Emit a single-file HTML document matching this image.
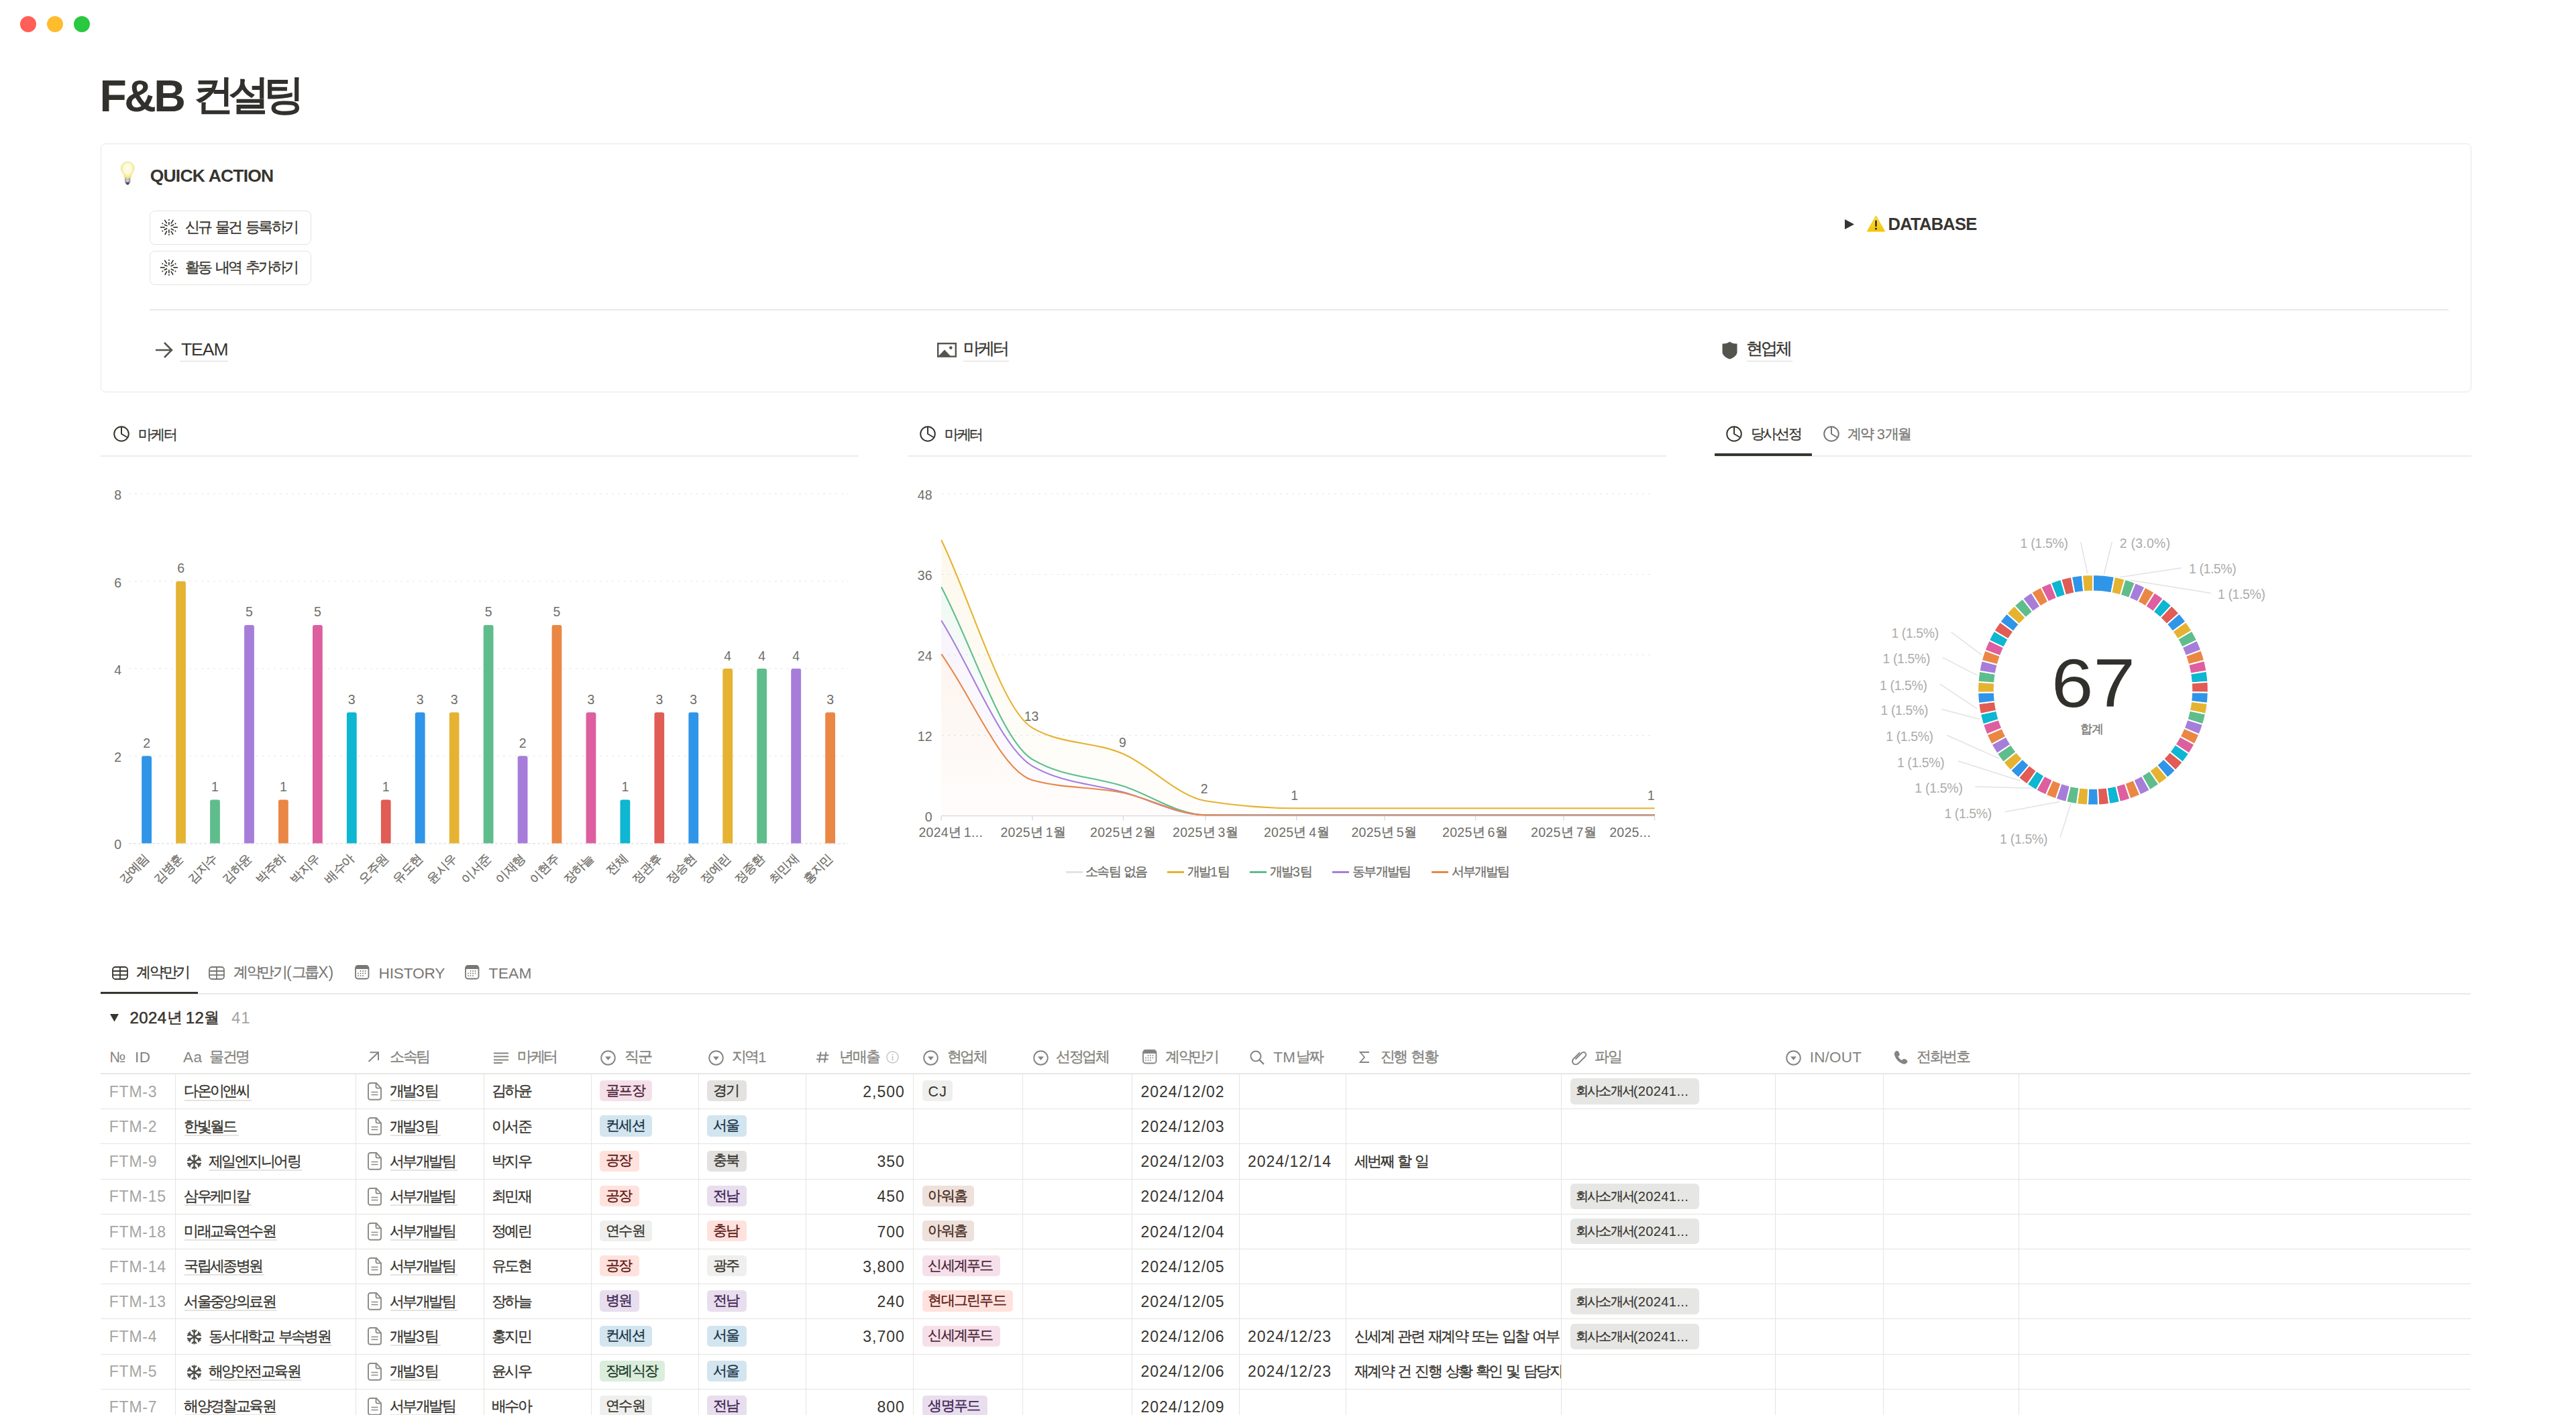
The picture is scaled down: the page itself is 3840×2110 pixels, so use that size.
<!DOCTYPE html><html><head><meta charset="utf-8"><style>
html,body{margin:0;padding:0}
body{width:3840px;height:2110px;overflow:hidden;background:#fff;position:relative;font-family:"Liberation Sans",sans-serif;color:#37352f}
.a{position:absolute;white-space:nowrap;line-height:1}
.k{vertical-align:0.06em;-webkit-text-stroke:0.35px currentColor}
.kb{vertical-align:0.06em}
svg.a{overflow:visible}
</style></head><body>
<div class="a" style="left:30px;top:24px;width:24px;height:24px;border-radius:50%;background:#ff5f57"></div>
<div class="a" style="left:70px;top:24px;width:24px;height:24px;border-radius:50%;background:#febc2e"></div>
<div class="a" style="left:110px;top:24px;width:24px;height:24px;border-radius:50%;background:#28c840"></div>
<div class="a" style="left:148.4px;top:110.4px;font-size:66px;color:#32302c;font-weight:700;letter-spacing:-3.5px;">F&amp;B <span class="kb" style="font-size:0.93em;letter-spacing:-0.14em">컨설팅</span></div>
<div class="a" style="box-sizing:border-box;left:150px;top:213.5px;width:3533.5px;height:371.5px;border:1.5px solid #e6e6e4;border-radius:7px"></div>
<svg class="a" style="left:178.0px;top:240.0px" width="26" height="38" viewBox="0 0 26 38">
<defs><radialGradient id="bg1" cx="50%" cy="42%" r="58%"><stop offset="0" stop-color="#fffef5"/><stop offset="0.55" stop-color="#fff9cf"/><stop offset="1" stop-color="#f3e47e"/></radialGradient>
<linearGradient id="bg2" x1="0" y1="0" x2="1" y2="0"><stop offset="0" stop-color="#9a9a9a"/><stop offset="0.5" stop-color="#d4d4d4"/><stop offset="1" stop-color="#8f8f8f"/></linearGradient></defs>
<path d="M12.2 1.4 C6.6 1.4 2.6 5.6 2.6 10.9 C2.6 15.2 5.1 17.6 7.1 21.2 L7.5 25.2 L16.9 25.2 L17.3 21.2 C19.3 17.6 21.8 15.2 21.8 10.9 C21.8 5.6 17.8 1.4 12.2 1.4 Z" fill="url(#bg1)" stroke="#e3da84" stroke-width="0.9"/>
<rect x="8" y="25.6" width="8.4" height="6.4" rx="0.8" fill="url(#bg2)"/>
<path d="M8.6 31.8 L15.8 31.8 L13.6 35.6 L10.8 35.6 Z" fill="#4a4a4a"/></svg>
<div class="a" style="left:223.7px;top:249.1px;font-size:26.5px;color:#37352f;font-weight:700;letter-spacing:-0.8px;">QUICK ACTION</div>
<div class="a" style="box-sizing:border-box;left:222.5px;top:314.4px;width:241px;height:50.5px;border:1.5px solid #e3e3e1;border-radius:8px"></div>
<svg class="a" style="left:230.0px;top:320.0px" width="44" height="38" viewBox="0 0 44 38"><line x1="21.9" y1="11" x2="21.9" y2="15.4" stroke="#37352f" stroke-width="1.7" stroke-linecap="butt"/><line x1="21.9" y1="22.3" x2="21.9" y2="27.4" stroke="#37352f" stroke-width="1.7" stroke-linecap="butt"/><line x1="9" y1="18.9" x2="15.7" y2="18.9" stroke="#37352f" stroke-width="1.7" stroke-linecap="butt"/><line x1="28.3" y1="18.9" x2="34.9" y2="18.9" stroke="#37352f" stroke-width="1.7" stroke-linecap="butt"/><line x1="14.7" y1="15.0" x2="19.5" y2="17.0" stroke="#37352f" stroke-width="1.7" stroke-linecap="butt"/><line x1="24.6" y1="17.0" x2="29.1" y2="14.7" stroke="#37352f" stroke-width="1.7" stroke-linecap="butt"/><line x1="14.7" y1="22.6" x2="19.2" y2="20.6" stroke="#37352f" stroke-width="1.7" stroke-linecap="butt"/><line x1="24.6" y1="20.9" x2="29.1" y2="23.2" stroke="#37352f" stroke-width="1.7" stroke-linecap="butt"/><line x1="15.3" y1="7.9" x2="18.8" y2="13.3" stroke="#37352f" stroke-width="1.7" stroke-linecap="butt"/><line x1="28.3" y1="7.9" x2="24.9" y2="13.6" stroke="#37352f" stroke-width="1.7" stroke-linecap="butt"/><line x1="15.8" y1="30" x2="18.8" y2="24.3" stroke="#37352f" stroke-width="1.7" stroke-linecap="butt"/><line x1="28" y1="29.7" x2="25" y2="24.6" stroke="#37352f" stroke-width="1.7" stroke-linecap="butt"/><rect x="21.0" y="7.0" width="1.8" height="1.8" fill="#37352f"/><rect x="21.0" y="29.1" width="1.8" height="1.8" fill="#37352f"/><path d="M12.3 12.0 L13.600000000000001 13.3 L12.3 14.600000000000001 L11.0 13.3 Z" fill="#37352f"/><path d="M31.5 12.1 L32.8 13.4 L31.5 14.700000000000001 L30.2 13.4 Z" fill="#37352f"/><path d="M12.3 23.2 L13.600000000000001 24.5 L12.3 25.8 L11.0 24.5 Z" fill="#37352f"/><path d="M31.4 23.2 L32.699999999999996 24.5 L31.4 25.8 L30.099999999999998 24.5 Z" fill="#37352f"/></svg>
<div class="a" style="left:275.8px;top:328.3px;font-size:23px;color:#37352f;"><span class="k" style="font-size:0.96em;letter-spacing:-0.12em">신규</span> <span class="k" style="font-size:0.96em;letter-spacing:-0.12em">물건</span> <span class="k" style="font-size:0.96em;letter-spacing:-0.12em">등록하기</span></div>
<div class="a" style="box-sizing:border-box;left:222.5px;top:374.4px;width:241px;height:50.5px;border:1.5px solid #e3e3e1;border-radius:8px"></div>
<svg class="a" style="left:230.0px;top:380.0px" width="44" height="38" viewBox="0 0 44 38"><line x1="21.9" y1="11" x2="21.9" y2="15.4" stroke="#37352f" stroke-width="1.7" stroke-linecap="butt"/><line x1="21.9" y1="22.3" x2="21.9" y2="27.4" stroke="#37352f" stroke-width="1.7" stroke-linecap="butt"/><line x1="9" y1="18.9" x2="15.7" y2="18.9" stroke="#37352f" stroke-width="1.7" stroke-linecap="butt"/><line x1="28.3" y1="18.9" x2="34.9" y2="18.9" stroke="#37352f" stroke-width="1.7" stroke-linecap="butt"/><line x1="14.7" y1="15.0" x2="19.5" y2="17.0" stroke="#37352f" stroke-width="1.7" stroke-linecap="butt"/><line x1="24.6" y1="17.0" x2="29.1" y2="14.7" stroke="#37352f" stroke-width="1.7" stroke-linecap="butt"/><line x1="14.7" y1="22.6" x2="19.2" y2="20.6" stroke="#37352f" stroke-width="1.7" stroke-linecap="butt"/><line x1="24.6" y1="20.9" x2="29.1" y2="23.2" stroke="#37352f" stroke-width="1.7" stroke-linecap="butt"/><line x1="15.3" y1="7.9" x2="18.8" y2="13.3" stroke="#37352f" stroke-width="1.7" stroke-linecap="butt"/><line x1="28.3" y1="7.9" x2="24.9" y2="13.6" stroke="#37352f" stroke-width="1.7" stroke-linecap="butt"/><line x1="15.8" y1="30" x2="18.8" y2="24.3" stroke="#37352f" stroke-width="1.7" stroke-linecap="butt"/><line x1="28" y1="29.7" x2="25" y2="24.6" stroke="#37352f" stroke-width="1.7" stroke-linecap="butt"/><rect x="21.0" y="7.0" width="1.8" height="1.8" fill="#37352f"/><rect x="21.0" y="29.1" width="1.8" height="1.8" fill="#37352f"/><path d="M12.3 12.0 L13.600000000000001 13.3 L12.3 14.600000000000001 L11.0 13.3 Z" fill="#37352f"/><path d="M31.5 12.1 L32.8 13.4 L31.5 14.700000000000001 L30.2 13.4 Z" fill="#37352f"/><path d="M12.3 23.2 L13.600000000000001 24.5 L12.3 25.8 L11.0 24.5 Z" fill="#37352f"/><path d="M31.4 23.2 L32.699999999999996 24.5 L31.4 25.8 L30.099999999999998 24.5 Z" fill="#37352f"/></svg>
<div class="a" style="left:275.8px;top:388.3px;font-size:23px;color:#37352f;"><span class="k" style="font-size:0.96em;letter-spacing:-0.12em">활동</span> <span class="k" style="font-size:0.96em;letter-spacing:-0.12em">내역</span> <span class="k" style="font-size:0.96em;letter-spacing:-0.12em">추가하기</span></div>
<div class="a" style="left:222.5px;top:460.5px;width:3427.5px;height:2.0px;background:#e9e9e7;"></div>
<svg class="a" style="left:228.0px;top:506.0px" width="32" height="32" viewBox="0 0 32 32"><path d="M4 16 H28 M17 5 L28 16 L17 27" fill="none" stroke="#55534e" stroke-width="2.6" stroke-linecap="butt" stroke-linejoin="miter"/></svg>
<div class="a" style="left:269.9px;top:507.7px;font-size:26.5px;color:#37352f;letter-spacing:-1px;">TEAM</div>
<div class="a" style="left:268.0px;top:537.5px;width:72.0px;height:1.5px;background:#d9d9d7;"></div>
<svg class="a" style="left:1397.0px;top:510.7px" width="29" height="22" viewBox="0 0 29 22"><rect x="1.2" y="1.2" width="26.6" height="19.4" fill="none" stroke="#55534e" stroke-width="2.4"/><path d="M2 20 L11 10.5 L20 20 Z" fill="#55534e"/><circle cx="20.3" cy="7.6" r="2.3" fill="#55534e"/></svg>
<div class="a" style="left:1436.0px;top:507.4px;font-size:26px;color:#37352f;"><span class="k" style="font-size:0.96em;letter-spacing:-0.12em">마케터</span></div>
<div class="a" style="left:1436.0px;top:537.7px;width:68.0px;height:1.5px;background:#d9d9d7;"></div>
<svg class="a" style="left:2567.0px;top:509.0px" width="23" height="27" viewBox="0 0 23 27"><path d="M11.5 0.5 L14 2 C16.5 3.3 19.5 3.6 22.5 3.6 L22.5 16 C22.5 20.5 17.5 24.5 11.5 26.5 C5.5 24.5 0.5 20.5 0.5 16 L0.5 3.6 C3.5 3.6 6.5 3.3 9 2 Z" fill="#55534e"/></svg>
<div class="a" style="left:2602.8px;top:507.1px;font-size:26px;color:#37352f;"><span class="k" style="font-size:0.96em;letter-spacing:-0.12em">현업체</span></div>
<div class="a" style="left:2604.0px;top:537.7px;width:68.0px;height:1.5px;background:#d9d9d7;"></div>
<svg class="a" style="left:2749.8px;top:327.0px" width="14" height="15" viewBox="0 0 14 15"><path d="M0 0 L14 7.5 L0 15 Z" fill="#37352f"/></svg>
<svg class="a" style="left:2783.0px;top:321.0px" width="27" height="25" viewBox="0 0 27 25"><defs><linearGradient id="wg" x1="0" y1="0" x2="0" y2="1"><stop offset="0" stop-color="#ffe14d"/><stop offset="1" stop-color="#f5c400"/></linearGradient></defs><path d="M13.5 1 L26.5 24 L0.5 24 Z" fill="url(#wg)" stroke="#f2c200" stroke-width="1" stroke-linejoin="round"/><rect x="12.3" y="7.5" width="2.4" height="9.5" rx="1" fill="#222"/><circle cx="13.5" cy="20" r="1.5" fill="#222"/></svg>
<div class="a" style="left:2814.6px;top:322.2px;font-size:25.5px;color:#37352f;font-weight:700;letter-spacing:-0.75px;">DATABASE</div>
<svg class="a" style="left:169.0px;top:635.0px" width="24" height="24" viewBox="0 0 24 24"><circle cx="12" cy="12" r="10.8" fill="none" stroke="#37352f" stroke-width="2"/><path d="M12 1.5 V12 L20.5 17" fill="none" stroke="#37352f" stroke-width="2" stroke-linejoin="round"/></svg>
<div class="a" style="left:205.9px;top:636.8px;font-size:22px;color:#37352f;"><span class="k" style="font-size:0.96em;letter-spacing:-0.1em">마케터</span></div>
<div class="a" style="left:150.0px;top:678.7px;width:1130.0px;height:2.0px;background:#ececea;"></div>
<svg class="a" style="left:1371.0px;top:635.0px" width="24" height="24" viewBox="0 0 24 24"><circle cx="12" cy="12" r="10.8" fill="none" stroke="#37352f" stroke-width="2"/><path d="M12 1.5 V12 L20.5 17" fill="none" stroke="#37352f" stroke-width="2" stroke-linejoin="round"/></svg>
<div class="a" style="left:1407.7px;top:636.8px;font-size:22px;color:#37352f;"><span class="k" style="font-size:0.96em;letter-spacing:-0.1em">마케터</span></div>
<div class="a" style="left:1354.0px;top:678.7px;width:1130.0px;height:2.0px;background:#ececea;"></div>
<svg class="a" style="left:2573.0px;top:635.0px" width="24" height="24" viewBox="0 0 24 24"><circle cx="12" cy="12" r="10.8" fill="none" stroke="#37352f" stroke-width="2"/><path d="M12 1.5 V12 L20.5 17" fill="none" stroke="#37352f" stroke-width="2" stroke-linejoin="round"/></svg>
<div class="a" style="left:2609.5px;top:636.4px;font-size:22px;color:#37352f;"><span class="k" style="font-size:0.96em;letter-spacing:-0.1em">당사선정</span></div>
<svg class="a" style="left:2718.0px;top:635.0px" width="24" height="24" viewBox="0 0 24 24"><circle cx="12" cy="12" r="10.8" fill="none" stroke="#787774" stroke-width="2"/><path d="M12 1.5 V12 L20.5 17" fill="none" stroke="#787774" stroke-width="2" stroke-linejoin="round"/></svg>
<div class="a" style="left:2753.9px;top:636.4px;font-size:22px;color:#787774;"><span class="k" style="font-size:0.96em;letter-spacing:-0.1em">계약</span> 3<span class="k" style="font-size:0.96em;letter-spacing:-0.1em">개월</span></div>
<div class="a" style="left:2558.0px;top:678.7px;width:1126.0px;height:2.0px;background:#ececea;"></div>
<div class="a" style="left:2556.0px;top:676.0px;width:145.0px;height:3.5px;background:#37352f;"></div>
<svg class="a" style="left:0;top:0" width="3840" height="2110" viewBox="0 0 3840 2110" font-family="Liberation Sans, sans-serif"><line x1="192" y1="1127.3" x2="1264" y2="1127.3" stroke="#e6e6e6" stroke-width="1" stroke-dasharray="3 6"/><line x1="192" y1="997.0" x2="1264" y2="997.0" stroke="#e6e6e6" stroke-width="1" stroke-dasharray="3 6"/><line x1="192" y1="866.8" x2="1264" y2="866.8" stroke="#e6e6e6" stroke-width="1" stroke-dasharray="3 6"/><line x1="192" y1="736.5" x2="1264" y2="736.5" stroke="#e6e6e6" stroke-width="1" stroke-dasharray="3 6"/><line x1="192" y1="1257.9" x2="1264" y2="1257.9" stroke="#dedede" stroke-width="1.2" stroke-dasharray="4 3"/><text x="181" y="1266.3" text-anchor="end" font-size="19.5" fill="#6f6e69">0</text><text x="181" y="1136.0" text-anchor="end" font-size="19.5" fill="#6f6e69">2</text><text x="181" y="1005.7" text-anchor="end" font-size="19.5" fill="#6f6e69">4</text><text x="181" y="875.5" text-anchor="end" font-size="19.5" fill="#6f6e69">6</text><text x="181" y="745.2" text-anchor="end" font-size="19.5" fill="#6f6e69">8</text><path d="M211.2 1257.6 V1130.3 Q211.2 1127.3 214.2 1127.3 H223.0 Q226.0 1127.3 226.0 1130.3 V1257.6 Z" fill="#2f95e8"/><text x="218.6" y="1114.8" text-anchor="middle" font-size="19.5" fill="#6f6e69">2</text><text x="222.8" y="1281.5" text-anchor="end" font-size="18.5" fill="#6f6e69" stroke="#6f6e69" stroke-width="0.3" letter-spacing="-1.5" transform="rotate(-45 222.8 1281.5)">강예림</text><path d="M262.2 1257.6 V869.8 Q262.2 866.8 265.2 866.8 H273.9 Q276.9 866.8 276.9 869.8 V1257.6 Z" fill="#e5b331"/><text x="269.6" y="854.3" text-anchor="middle" font-size="19.5" fill="#6f6e69">6</text><text x="273.8" y="1281.5" text-anchor="end" font-size="18.5" fill="#6f6e69" stroke="#6f6e69" stroke-width="0.3" letter-spacing="-1.5" transform="rotate(-45 273.8 1281.5)">김병훈</text><path d="M313.1 1257.6 V1195.5 Q313.1 1192.5 316.1 1192.5 H324.9 Q327.9 1192.5 327.9 1195.5 V1257.6 Z" fill="#5fbd8c"/><text x="320.5" y="1180.0" text-anchor="middle" font-size="19.5" fill="#6f6e69">1</text><text x="324.7" y="1281.5" text-anchor="end" font-size="18.5" fill="#6f6e69" stroke="#6f6e69" stroke-width="0.3" letter-spacing="-1.5" transform="rotate(-45 324.7 1281.5)">김지수</text><path d="M364.1 1257.6 V934.9 Q364.1 931.9 367.1 931.9 H375.9 Q378.9 931.9 378.9 934.9 V1257.6 Z" fill="#a77dda"/><text x="371.5" y="919.4" text-anchor="middle" font-size="19.5" fill="#6f6e69">5</text><text x="375.7" y="1281.5" text-anchor="end" font-size="18.5" fill="#6f6e69" stroke="#6f6e69" stroke-width="0.3" letter-spacing="-1.5" transform="rotate(-45 375.7 1281.5)">김하윤</text><path d="M415.0 1257.6 V1195.5 Q415.0 1192.5 418.0 1192.5 H426.8 Q429.8 1192.5 429.8 1195.5 V1257.6 Z" fill="#ea8745"/><text x="422.4" y="1180.0" text-anchor="middle" font-size="19.5" fill="#6f6e69">1</text><text x="426.6" y="1281.5" text-anchor="end" font-size="18.5" fill="#6f6e69" stroke="#6f6e69" stroke-width="0.3" letter-spacing="-1.5" transform="rotate(-45 426.6 1281.5)">박주하</text><path d="M466.0 1257.6 V934.9 Q466.0 931.9 469.0 931.9 H477.8 Q480.8 931.9 480.8 934.9 V1257.6 Z" fill="#dd5f9f"/><text x="473.4" y="919.4" text-anchor="middle" font-size="19.5" fill="#6f6e69">5</text><text x="477.6" y="1281.5" text-anchor="end" font-size="18.5" fill="#6f6e69" stroke="#6f6e69" stroke-width="0.3" letter-spacing="-1.5" transform="rotate(-45 477.6 1281.5)">박지우</text><path d="M516.9 1257.6 V1065.2 Q516.9 1062.2 519.9 1062.2 H528.7 Q531.7 1062.2 531.7 1065.2 V1257.6 Z" fill="#0db6d1"/><text x="524.3" y="1049.7" text-anchor="middle" font-size="19.5" fill="#6f6e69">3</text><text x="528.5" y="1281.5" text-anchor="end" font-size="18.5" fill="#6f6e69" stroke="#6f6e69" stroke-width="0.3" letter-spacing="-1.5" transform="rotate(-45 528.5 1281.5)">배수아</text><path d="M567.9 1257.6 V1195.5 Q567.9 1192.5 570.9 1192.5 H579.6 Q582.6 1192.5 582.6 1195.5 V1257.6 Z" fill="#e05c55"/><text x="575.2" y="1180.0" text-anchor="middle" font-size="19.5" fill="#6f6e69">1</text><text x="579.5" y="1281.5" text-anchor="end" font-size="18.5" fill="#6f6e69" stroke="#6f6e69" stroke-width="0.3" letter-spacing="-1.5" transform="rotate(-45 579.5 1281.5)">오주원</text><path d="M618.8 1257.6 V1065.2 Q618.8 1062.2 621.8 1062.2 H630.6 Q633.6 1062.2 633.6 1065.2 V1257.6 Z" fill="#2f95e8"/><text x="626.2" y="1049.7" text-anchor="middle" font-size="19.5" fill="#6f6e69">3</text><text x="630.4" y="1281.5" text-anchor="end" font-size="18.5" fill="#6f6e69" stroke="#6f6e69" stroke-width="0.3" letter-spacing="-1.5" transform="rotate(-45 630.4 1281.5)">유도현</text><path d="M669.8 1257.6 V1065.2 Q669.8 1062.2 672.8 1062.2 H681.5 Q684.5 1062.2 684.5 1065.2 V1257.6 Z" fill="#e5b331"/><text x="677.1" y="1049.7" text-anchor="middle" font-size="19.5" fill="#6f6e69">3</text><text x="681.4" y="1281.5" text-anchor="end" font-size="18.5" fill="#6f6e69" stroke="#6f6e69" stroke-width="0.3" letter-spacing="-1.5" transform="rotate(-45 681.4 1281.5)">윤시우</text><path d="M720.7 1257.6 V934.9 Q720.7 931.9 723.7 931.9 H732.5 Q735.5 931.9 735.5 934.9 V1257.6 Z" fill="#5fbd8c"/><text x="728.1" y="919.4" text-anchor="middle" font-size="19.5" fill="#6f6e69">5</text><text x="732.3" y="1281.5" text-anchor="end" font-size="18.5" fill="#6f6e69" stroke="#6f6e69" stroke-width="0.3" letter-spacing="-1.5" transform="rotate(-45 732.3 1281.5)">이서준</text><path d="M771.7 1257.6 V1130.3 Q771.7 1127.3 774.7 1127.3 H783.5 Q786.5 1127.3 786.5 1130.3 V1257.6 Z" fill="#a77dda"/><text x="779.1" y="1114.8" text-anchor="middle" font-size="19.5" fill="#6f6e69">2</text><text x="783.3" y="1281.5" text-anchor="end" font-size="18.5" fill="#6f6e69" stroke="#6f6e69" stroke-width="0.3" letter-spacing="-1.5" transform="rotate(-45 783.3 1281.5)">이재형</text><path d="M822.6 1257.6 V934.9 Q822.6 931.9 825.6 931.9 H834.4 Q837.4 931.9 837.4 934.9 V1257.6 Z" fill="#ea8745"/><text x="830.0" y="919.4" text-anchor="middle" font-size="19.5" fill="#6f6e69">5</text><text x="834.2" y="1281.5" text-anchor="end" font-size="18.5" fill="#6f6e69" stroke="#6f6e69" stroke-width="0.3" letter-spacing="-1.5" transform="rotate(-45 834.2 1281.5)">이현주</text><path d="M873.6 1257.6 V1065.2 Q873.6 1062.2 876.6 1062.2 H885.4 Q888.4 1062.2 888.4 1065.2 V1257.6 Z" fill="#dd5f9f"/><text x="881.0" y="1049.7" text-anchor="middle" font-size="19.5" fill="#6f6e69">3</text><text x="885.2" y="1281.5" text-anchor="end" font-size="18.5" fill="#6f6e69" stroke="#6f6e69" stroke-width="0.3" letter-spacing="-1.5" transform="rotate(-45 885.2 1281.5)">장하늘</text><path d="M924.5 1257.6 V1195.5 Q924.5 1192.5 927.5 1192.5 H936.3 Q939.3 1192.5 939.3 1195.5 V1257.6 Z" fill="#0db6d1"/><text x="931.9" y="1180.0" text-anchor="middle" font-size="19.5" fill="#6f6e69">1</text><text x="936.1" y="1281.5" text-anchor="end" font-size="18.5" fill="#6f6e69" stroke="#6f6e69" stroke-width="0.3" letter-spacing="-1.5" transform="rotate(-45 936.1 1281.5)">전체</text><path d="M975.5 1257.6 V1065.2 Q975.5 1062.2 978.5 1062.2 H987.2 Q990.2 1062.2 990.2 1065.2 V1257.6 Z" fill="#e05c55"/><text x="982.9" y="1049.7" text-anchor="middle" font-size="19.5" fill="#6f6e69">3</text><text x="987.1" y="1281.5" text-anchor="end" font-size="18.5" fill="#6f6e69" stroke="#6f6e69" stroke-width="0.3" letter-spacing="-1.5" transform="rotate(-45 987.1 1281.5)">정관후</text><path d="M1026.4 1257.6 V1065.2 Q1026.4 1062.2 1029.4 1062.2 H1038.2 Q1041.2 1062.2 1041.2 1065.2 V1257.6 Z" fill="#2f95e8"/><text x="1033.8" y="1049.7" text-anchor="middle" font-size="19.5" fill="#6f6e69">3</text><text x="1038.0" y="1281.5" text-anchor="end" font-size="18.5" fill="#6f6e69" stroke="#6f6e69" stroke-width="0.3" letter-spacing="-1.5" transform="rotate(-45 1038.0 1281.5)">정승현</text><path d="M1077.3 1257.6 V1000.0 Q1077.3 997.0 1080.3 997.0 H1089.2 Q1092.2 997.0 1092.2 1000.0 V1257.6 Z" fill="#e5b331"/><text x="1084.8" y="984.5" text-anchor="middle" font-size="19.5" fill="#6f6e69">4</text><text x="1089.0" y="1281.5" text-anchor="end" font-size="18.5" fill="#6f6e69" stroke="#6f6e69" stroke-width="0.3" letter-spacing="-1.5" transform="rotate(-45 1089.0 1281.5)">정예린</text><path d="M1128.3 1257.6 V1000.0 Q1128.3 997.0 1131.3 997.0 H1140.1 Q1143.1 997.0 1143.1 1000.0 V1257.6 Z" fill="#5fbd8c"/><text x="1135.7" y="984.5" text-anchor="middle" font-size="19.5" fill="#6f6e69">4</text><text x="1139.9" y="1281.5" text-anchor="end" font-size="18.5" fill="#6f6e69" stroke="#6f6e69" stroke-width="0.3" letter-spacing="-1.5" transform="rotate(-45 1139.9 1281.5)">정종환</text><path d="M1179.2 1257.6 V1000.0 Q1179.2 997.0 1182.2 997.0 H1191.1 Q1194.1 997.0 1194.1 1000.0 V1257.6 Z" fill="#a77dda"/><text x="1186.7" y="984.5" text-anchor="middle" font-size="19.5" fill="#6f6e69">4</text><text x="1190.9" y="1281.5" text-anchor="end" font-size="18.5" fill="#6f6e69" stroke="#6f6e69" stroke-width="0.3" letter-spacing="-1.5" transform="rotate(-45 1190.9 1281.5)">최민재</text><path d="M1230.2 1257.6 V1065.2 Q1230.2 1062.2 1233.2 1062.2 H1242.0 Q1245.0 1062.2 1245.0 1065.2 V1257.6 Z" fill="#ea8745"/><text x="1237.6" y="1049.7" text-anchor="middle" font-size="19.5" fill="#6f6e69">3</text><text x="1241.8" y="1281.5" text-anchor="end" font-size="18.5" fill="#6f6e69" stroke="#6f6e69" stroke-width="0.3" letter-spacing="-1.5" transform="rotate(-45 1241.8 1281.5)">홍지민</text></svg>
<svg class="a" style="left:0;top:0" width="3840" height="2110" viewBox="0 0 3840 2110" font-family="Liberation Sans, sans-serif"><line x1="1404" y1="1096.5" x2="2466" y2="1096.5" stroke="#e6e6e6" stroke-width="1" stroke-dasharray="3 6"/><line x1="1404" y1="976.5" x2="2466" y2="976.5" stroke="#e6e6e6" stroke-width="1" stroke-dasharray="3 6"/><line x1="1404" y1="856.5" x2="2466" y2="856.5" stroke="#e6e6e6" stroke-width="1" stroke-dasharray="3 6"/><line x1="1404" y1="736.5" x2="2466" y2="736.5" stroke="#e6e6e6" stroke-width="1" stroke-dasharray="3 6"/><text x="1389.5" y="1225.2" text-anchor="end" font-size="19.5" fill="#6f6e69">0</text><text x="1389.5" y="1105.2" text-anchor="end" font-size="19.5" fill="#6f6e69">12</text><text x="1389.5" y="985.2" text-anchor="end" font-size="19.5" fill="#6f6e69">24</text><text x="1389.5" y="865.2" text-anchor="end" font-size="19.5" fill="#6f6e69">36</text><text x="1389.5" y="745.2" text-anchor="end" font-size="19.5" fill="#6f6e69">48</text><defs><linearGradient id="lg0" x1="0" y1="0" x2="0" y2="1"><stop offset="0" stop-color="#e9874a" stop-opacity="0.09"/><stop offset="1" stop-color="#e9874a" stop-opacity="0.02"/></linearGradient><linearGradient id="lg1" x1="0" y1="0" x2="0" y2="1"><stop offset="0" stop-color="#a77dda" stop-opacity="0.09"/><stop offset="1" stop-color="#a77dda" stop-opacity="0.02"/></linearGradient><linearGradient id="lg2" x1="0" y1="0" x2="0" y2="1"><stop offset="0" stop-color="#5fbd8c" stop-opacity="0.09"/><stop offset="1" stop-color="#5fbd8c" stop-opacity="0.02"/></linearGradient><linearGradient id="lg3" x1="0" y1="0" x2="0" y2="1"><stop offset="0" stop-color="#e5b331" stop-opacity="0.09"/><stop offset="1" stop-color="#e5b331" stop-opacity="0.02"/></linearGradient></defs><path d="M1403.2 975.3 L1408.9 983.4 L1414.5 991.9 L1420.2 1000.9 L1425.8 1010.1 L1431.5 1019.6 L1437.1 1029.3 L1442.8 1039.2 L1448.4 1049.1 L1454.1 1059.0 L1459.7 1068.8 L1465.4 1078.5 L1471.0 1088.0 L1476.7 1097.3 L1482.4 1106.2 L1488.0 1114.8 L1493.7 1122.9 L1499.3 1130.4 L1505.0 1137.4 L1510.6 1143.7 L1516.3 1149.3 L1521.9 1154.2 L1527.6 1158.1 L1533.2 1161.2 L1538.9 1163.3 L1544.6 1164.8 L1550.2 1166.2 L1555.9 1167.4 L1561.5 1168.5 L1567.2 1169.4 L1572.8 1170.3 L1578.4 1171.1 L1584.1 1171.8 L1589.8 1172.4 L1595.4 1173.0 L1601.1 1173.5 L1606.7 1174.0 L1612.3 1174.5 L1618.0 1175.0 L1623.7 1175.5 L1629.3 1176.0 L1634.9 1176.6 L1640.6 1177.1 L1646.2 1177.8 L1651.9 1178.5 L1657.6 1179.3 L1663.2 1180.2 L1668.9 1181.2 L1674.5 1182.3 L1679.6 1183.4 L1684.7 1184.7 L1689.8 1186.2 L1694.9 1187.7 L1700.0 1189.3 L1705.1 1191.0 L1710.2 1192.8 L1715.3 1194.6 L1720.4 1196.5 L1725.5 1198.3 L1730.6 1200.2 L1735.8 1202.0 L1740.9 1203.8 L1746.0 1205.5 L1751.1 1207.1 L1756.2 1208.6 L1761.3 1210.1 L1766.4 1211.3 L1771.5 1212.5 L1776.6 1213.4 L1781.7 1214.2 L1786.8 1214.8 L1791.9 1215.2 L1797.0 1215.3 L1802.7 1215.3 L1808.3 1215.3 L1814.0 1215.3 L1819.6 1215.3 L1825.3 1215.3 L1830.9 1215.3 L1836.6 1215.3 L1842.2 1215.3 L1847.9 1215.3 L1853.5 1215.3 L1859.2 1215.3 L1864.8 1215.3 L1870.5 1215.3 L1876.2 1215.3 L1881.8 1215.3 L1887.5 1215.3 L1893.1 1215.3 L1898.8 1215.3 L1904.4 1215.3 L1910.1 1215.3 L1915.7 1215.3 L1921.4 1215.3 L1927.0 1215.3 L1932.7 1215.3 L1938.2 1215.3 L1943.6 1215.3 L1949.1 1215.3 L1954.6 1215.3 L1960.1 1215.3 L1965.5 1215.3 L1971.0 1215.3 L1976.5 1215.3 L1981.9 1215.3 L1987.4 1215.3 L1992.9 1215.3 L1998.3 1215.3 L2003.8 1215.3 L2009.3 1215.3 L2014.8 1215.3 L2020.2 1215.3 L2025.7 1215.3 L2031.2 1215.3 L2036.6 1215.3 L2042.1 1215.3 L2047.6 1215.3 L2053.1 1215.3 L2058.5 1215.3 L2064.0 1215.3 L2069.6 1215.3 L2075.3 1215.3 L2080.9 1215.3 L2086.6 1215.3 L2092.2 1215.3 L2097.9 1215.3 L2103.5 1215.3 L2109.2 1215.3 L2114.8 1215.3 L2120.5 1215.3 L2126.2 1215.3 L2131.8 1215.3 L2137.4 1215.3 L2143.1 1215.3 L2148.8 1215.3 L2154.4 1215.3 L2160.1 1215.3 L2165.7 1215.3 L2171.3 1215.3 L2177.0 1215.3 L2182.6 1215.3 L2188.3 1215.3 L2193.9 1215.3 L2199.6 1215.3 L2205.1 1215.3 L2210.5 1215.3 L2216.0 1215.3 L2221.5 1215.3 L2227.0 1215.3 L2232.4 1215.3 L2237.9 1215.3 L2243.4 1215.3 L2248.8 1215.3 L2254.3 1215.3 L2259.8 1215.3 L2265.2 1215.3 L2270.7 1215.3 L2276.2 1215.3 L2281.7 1215.3 L2287.1 1215.3 L2292.6 1215.3 L2298.1 1215.3 L2303.5 1215.3 L2309.0 1215.3 L2314.5 1215.3 L2320.0 1215.3 L2325.4 1215.3 L2330.9 1215.3 L2336.6 1215.3 L2342.2 1215.3 L2347.9 1215.3 L2353.5 1215.3 L2359.1 1215.3 L2364.8 1215.3 L2370.4 1215.3 L2376.1 1215.3 L2381.8 1215.3 L2387.4 1215.3 L2393.1 1215.3 L2398.7 1215.3 L2404.3 1215.3 L2410.0 1215.3 L2415.7 1215.3 L2421.3 1215.3 L2426.9 1215.3 L2432.6 1215.3 L2438.2 1215.3 L2443.9 1215.3 L2449.6 1215.3 L2455.2 1215.3 L2460.8 1215.3 L2466.5 1215.3 L2466.5 1215.3 L1403.2 1215.3 Z" fill="url(#lg0)"/><path d="M1403.2 925.3 L1408.9 934.6 L1414.5 944.3 L1420.2 954.3 L1425.8 964.7 L1431.5 975.3 L1437.1 986.1 L1442.8 997.0 L1448.4 1007.9 L1454.1 1018.9 L1459.7 1029.8 L1465.4 1040.6 L1471.0 1051.2 L1476.7 1061.5 L1482.4 1071.6 L1488.0 1081.3 L1493.7 1090.6 L1499.3 1099.3 L1505.0 1107.6 L1510.6 1115.2 L1516.3 1122.2 L1521.9 1128.5 L1527.6 1133.9 L1533.2 1138.6 L1538.9 1142.3 L1544.6 1145.4 L1550.2 1148.3 L1555.9 1150.9 L1561.5 1153.3 L1567.2 1155.5 L1572.8 1157.6 L1578.4 1159.4 L1584.1 1161.1 L1589.8 1162.7 L1595.4 1164.2 L1601.1 1165.5 L1606.7 1166.8 L1612.3 1168.0 L1618.0 1169.1 L1623.7 1170.2 L1629.3 1171.3 L1634.9 1172.4 L1640.6 1173.5 L1646.2 1174.6 L1651.9 1175.8 L1657.6 1177.0 L1663.2 1178.3 L1668.9 1179.8 L1674.5 1181.3 L1679.6 1182.8 L1684.7 1184.4 L1689.8 1186.1 L1694.9 1187.8 L1700.0 1189.6 L1705.1 1191.5 L1710.2 1193.4 L1715.3 1195.2 L1720.4 1197.1 L1725.5 1199.0 L1730.6 1200.8 L1735.8 1202.6 L1740.9 1204.4 L1746.0 1206.0 L1751.1 1207.6 L1756.2 1209.0 L1761.3 1210.4 L1766.4 1211.6 L1771.5 1212.7 L1776.6 1213.6 L1781.7 1214.3 L1786.8 1214.9 L1791.9 1215.2 L1797.0 1215.3 L1802.7 1215.3 L1808.3 1215.3 L1814.0 1215.3 L1819.6 1215.3 L1825.3 1215.3 L1830.9 1215.3 L1836.6 1215.3 L1842.2 1215.3 L1847.9 1215.3 L1853.5 1215.3 L1859.2 1215.3 L1864.8 1215.3 L1870.5 1215.3 L1876.2 1215.3 L1881.8 1215.3 L1887.5 1215.3 L1893.1 1215.3 L1898.8 1215.3 L1904.4 1215.3 L1910.1 1215.3 L1915.7 1215.3 L1921.4 1215.3 L1927.0 1215.3 L1932.7 1215.3 L1938.2 1215.3 L1943.6 1215.3 L1949.1 1215.3 L1954.6 1215.3 L1960.1 1215.3 L1965.5 1215.3 L1971.0 1215.3 L1976.5 1215.3 L1981.9 1215.3 L1987.4 1215.3 L1992.9 1215.3 L1998.3 1215.3 L2003.8 1215.3 L2009.3 1215.3 L2014.8 1215.3 L2020.2 1215.3 L2025.7 1215.3 L2031.2 1215.3 L2036.6 1215.3 L2042.1 1215.3 L2047.6 1215.3 L2053.1 1215.3 L2058.5 1215.3 L2064.0 1215.3 L2069.6 1215.3 L2075.3 1215.3 L2080.9 1215.3 L2086.6 1215.3 L2092.2 1215.3 L2097.9 1215.3 L2103.5 1215.3 L2109.2 1215.3 L2114.8 1215.3 L2120.5 1215.3 L2126.2 1215.3 L2131.8 1215.3 L2137.4 1215.3 L2143.1 1215.3 L2148.8 1215.3 L2154.4 1215.3 L2160.1 1215.3 L2165.7 1215.3 L2171.3 1215.3 L2177.0 1215.3 L2182.6 1215.3 L2188.3 1215.3 L2193.9 1215.3 L2199.6 1215.3 L2205.1 1215.3 L2210.5 1215.3 L2216.0 1215.3 L2221.5 1215.3 L2227.0 1215.3 L2232.4 1215.3 L2237.9 1215.3 L2243.4 1215.3 L2248.8 1215.3 L2254.3 1215.3 L2259.8 1215.3 L2265.2 1215.3 L2270.7 1215.3 L2276.2 1215.3 L2281.7 1215.3 L2287.1 1215.3 L2292.6 1215.3 L2298.1 1215.3 L2303.5 1215.3 L2309.0 1215.3 L2314.5 1215.3 L2320.0 1215.3 L2325.4 1215.3 L2330.9 1215.3 L2336.6 1215.3 L2342.2 1215.3 L2347.9 1215.3 L2353.5 1215.3 L2359.1 1215.3 L2364.8 1215.3 L2370.4 1215.3 L2376.1 1215.3 L2381.8 1215.3 L2387.4 1215.3 L2393.1 1215.3 L2398.7 1215.3 L2404.3 1215.3 L2410.0 1215.3 L2415.7 1215.3 L2421.3 1215.3 L2426.9 1215.3 L2432.6 1215.3 L2438.2 1215.3 L2443.9 1215.3 L2449.6 1215.3 L2455.2 1215.3 L2460.8 1215.3 L2466.5 1215.3 L2466.5 1215.3 L2460.8 1215.3 L2455.2 1215.3 L2449.6 1215.3 L2443.9 1215.3 L2438.2 1215.3 L2432.6 1215.3 L2426.9 1215.3 L2421.3 1215.3 L2415.7 1215.3 L2410.0 1215.3 L2404.3 1215.3 L2398.7 1215.3 L2393.1 1215.3 L2387.4 1215.3 L2381.8 1215.3 L2376.1 1215.3 L2370.4 1215.3 L2364.8 1215.3 L2359.1 1215.3 L2353.5 1215.3 L2347.9 1215.3 L2342.2 1215.3 L2336.6 1215.3 L2330.9 1215.3 L2325.4 1215.3 L2320.0 1215.3 L2314.5 1215.3 L2309.0 1215.3 L2303.5 1215.3 L2298.1 1215.3 L2292.6 1215.3 L2287.1 1215.3 L2281.7 1215.3 L2276.2 1215.3 L2270.7 1215.3 L2265.2 1215.3 L2259.8 1215.3 L2254.3 1215.3 L2248.8 1215.3 L2243.4 1215.3 L2237.9 1215.3 L2232.4 1215.3 L2227.0 1215.3 L2221.5 1215.3 L2216.0 1215.3 L2210.5 1215.3 L2205.1 1215.3 L2199.6 1215.3 L2193.9 1215.3 L2188.3 1215.3 L2182.6 1215.3 L2177.0 1215.3 L2171.3 1215.3 L2165.7 1215.3 L2160.1 1215.3 L2154.4 1215.3 L2148.8 1215.3 L2143.1 1215.3 L2137.4 1215.3 L2131.8 1215.3 L2126.2 1215.3 L2120.5 1215.3 L2114.8 1215.3 L2109.2 1215.3 L2103.5 1215.3 L2097.9 1215.3 L2092.2 1215.3 L2086.6 1215.3 L2080.9 1215.3 L2075.3 1215.3 L2069.6 1215.3 L2064.0 1215.3 L2058.5 1215.3 L2053.1 1215.3 L2047.6 1215.3 L2042.1 1215.3 L2036.6 1215.3 L2031.2 1215.3 L2025.7 1215.3 L2020.2 1215.3 L2014.8 1215.3 L2009.3 1215.3 L2003.8 1215.3 L1998.3 1215.3 L1992.9 1215.3 L1987.4 1215.3 L1981.9 1215.3 L1976.5 1215.3 L1971.0 1215.3 L1965.5 1215.3 L1960.1 1215.3 L1954.6 1215.3 L1949.1 1215.3 L1943.6 1215.3 L1938.2 1215.3 L1932.7 1215.3 L1927.0 1215.3 L1921.4 1215.3 L1915.7 1215.3 L1910.1 1215.3 L1904.4 1215.3 L1898.8 1215.3 L1893.1 1215.3 L1887.5 1215.3 L1881.8 1215.3 L1876.2 1215.3 L1870.5 1215.3 L1864.8 1215.3 L1859.2 1215.3 L1853.5 1215.3 L1847.9 1215.3 L1842.2 1215.3 L1836.6 1215.3 L1830.9 1215.3 L1825.3 1215.3 L1819.6 1215.3 L1814.0 1215.3 L1808.3 1215.3 L1802.7 1215.3 L1797.0 1215.3 L1791.9 1215.2 L1786.8 1214.8 L1781.7 1214.2 L1776.6 1213.4 L1771.5 1212.5 L1766.4 1211.3 L1761.3 1210.1 L1756.2 1208.6 L1751.1 1207.1 L1746.0 1205.5 L1740.9 1203.8 L1735.8 1202.0 L1730.6 1200.2 L1725.5 1198.3 L1720.4 1196.5 L1715.3 1194.6 L1710.2 1192.8 L1705.1 1191.0 L1700.0 1189.3 L1694.9 1187.7 L1689.8 1186.2 L1684.7 1184.7 L1679.6 1183.4 L1674.5 1182.3 L1668.9 1181.2 L1663.2 1180.2 L1657.6 1179.3 L1651.9 1178.5 L1646.2 1177.8 L1640.6 1177.1 L1634.9 1176.6 L1629.3 1176.0 L1623.7 1175.5 L1618.0 1175.0 L1612.3 1174.5 L1606.7 1174.0 L1601.1 1173.5 L1595.4 1173.0 L1589.8 1172.4 L1584.1 1171.8 L1578.4 1171.1 L1572.8 1170.3 L1567.2 1169.4 L1561.5 1168.5 L1555.9 1167.4 L1550.2 1166.2 L1544.6 1164.8 L1538.9 1163.3 L1533.2 1161.2 L1527.6 1158.1 L1521.9 1154.2 L1516.3 1149.3 L1510.6 1143.7 L1505.0 1137.4 L1499.3 1130.4 L1493.7 1122.9 L1488.0 1114.8 L1482.4 1106.2 L1476.7 1097.3 L1471.0 1088.0 L1465.4 1078.5 L1459.7 1068.8 L1454.1 1059.0 L1448.4 1049.1 L1442.8 1039.2 L1437.1 1029.3 L1431.5 1019.6 L1425.8 1010.1 L1420.2 1000.9 L1414.5 991.9 L1408.9 983.4 L1403.2 975.3 Z" fill="url(#lg1)"/><path d="M1403.2 875.3 L1408.9 886.3 L1414.5 897.8 L1420.2 909.8 L1425.8 922.2 L1431.5 934.9 L1437.1 947.8 L1442.8 960.9 L1448.4 974.1 L1454.1 987.2 L1459.7 1000.3 L1465.4 1013.2 L1471.0 1025.9 L1476.7 1038.3 L1482.4 1050.3 L1488.0 1061.8 L1493.7 1072.8 L1499.3 1083.2 L1505.0 1092.9 L1510.6 1101.9 L1516.3 1109.9 L1521.9 1117.1 L1527.6 1123.3 L1533.2 1128.4 L1538.9 1132.3 L1544.6 1135.5 L1550.2 1138.4 L1555.9 1141.1 L1561.5 1143.5 L1567.2 1145.7 L1572.8 1147.7 L1578.4 1149.6 L1584.1 1151.3 L1589.8 1152.8 L1595.4 1154.2 L1601.1 1155.6 L1606.7 1156.8 L1612.3 1158.0 L1618.0 1159.1 L1623.7 1160.2 L1629.3 1161.3 L1634.9 1162.5 L1640.6 1163.6 L1646.2 1164.8 L1651.9 1166.1 L1657.6 1167.5 L1663.2 1168.9 L1668.9 1170.5 L1674.5 1172.3 L1679.6 1174.0 L1684.7 1175.9 L1689.8 1178.0 L1694.9 1180.1 L1700.0 1182.3 L1705.1 1184.6 L1710.2 1187.0 L1715.3 1189.3 L1720.4 1191.7 L1725.5 1194.1 L1730.6 1196.5 L1735.8 1198.8 L1740.9 1201.0 L1746.0 1203.2 L1751.1 1205.2 L1756.2 1207.1 L1761.3 1208.9 L1766.4 1210.4 L1771.5 1211.8 L1776.6 1213.0 L1781.7 1214.0 L1786.8 1214.7 L1791.9 1215.1 L1797.0 1215.3 L1802.7 1215.3 L1808.3 1215.3 L1814.0 1215.3 L1819.6 1215.3 L1825.3 1215.3 L1830.9 1215.3 L1836.6 1215.3 L1842.2 1215.3 L1847.9 1215.3 L1853.5 1215.3 L1859.2 1215.3 L1864.8 1215.3 L1870.5 1215.3 L1876.2 1215.3 L1881.8 1215.3 L1887.5 1215.3 L1893.1 1215.3 L1898.8 1215.3 L1904.4 1215.3 L1910.1 1215.3 L1915.7 1215.3 L1921.4 1215.3 L1927.0 1215.3 L1932.7 1215.3 L1938.2 1215.3 L1943.6 1215.3 L1949.1 1215.3 L1954.6 1215.3 L1960.1 1215.3 L1965.5 1215.3 L1971.0 1215.3 L1976.5 1215.3 L1981.9 1215.3 L1987.4 1215.3 L1992.9 1215.3 L1998.3 1215.3 L2003.8 1215.3 L2009.3 1215.3 L2014.8 1215.3 L2020.2 1215.3 L2025.7 1215.3 L2031.2 1215.3 L2036.6 1215.3 L2042.1 1215.3 L2047.6 1215.3 L2053.1 1215.3 L2058.5 1215.3 L2064.0 1215.3 L2069.6 1215.3 L2075.3 1215.3 L2080.9 1215.3 L2086.6 1215.3 L2092.2 1215.3 L2097.9 1215.3 L2103.5 1215.3 L2109.2 1215.3 L2114.8 1215.3 L2120.5 1215.3 L2126.2 1215.3 L2131.8 1215.3 L2137.4 1215.3 L2143.1 1215.3 L2148.8 1215.3 L2154.4 1215.3 L2160.1 1215.3 L2165.7 1215.3 L2171.3 1215.3 L2177.0 1215.3 L2182.6 1215.3 L2188.3 1215.3 L2193.9 1215.3 L2199.6 1215.3 L2205.1 1215.3 L2210.5 1215.3 L2216.0 1215.3 L2221.5 1215.3 L2227.0 1215.3 L2232.4 1215.3 L2237.9 1215.3 L2243.4 1215.3 L2248.8 1215.3 L2254.3 1215.3 L2259.8 1215.3 L2265.2 1215.3 L2270.7 1215.3 L2276.2 1215.3 L2281.7 1215.3 L2287.1 1215.3 L2292.6 1215.3 L2298.1 1215.3 L2303.5 1215.3 L2309.0 1215.3 L2314.5 1215.3 L2320.0 1215.3 L2325.4 1215.3 L2330.9 1215.3 L2336.6 1215.3 L2342.2 1215.3 L2347.9 1215.3 L2353.5 1215.3 L2359.1 1215.3 L2364.8 1215.3 L2370.4 1215.3 L2376.1 1215.3 L2381.8 1215.3 L2387.4 1215.3 L2393.1 1215.3 L2398.7 1215.3 L2404.3 1215.3 L2410.0 1215.3 L2415.7 1215.3 L2421.3 1215.3 L2426.9 1215.3 L2432.6 1215.3 L2438.2 1215.3 L2443.9 1215.3 L2449.6 1215.3 L2455.2 1215.3 L2460.8 1215.3 L2466.5 1215.3 L2466.5 1215.3 L2460.8 1215.3 L2455.2 1215.3 L2449.6 1215.3 L2443.9 1215.3 L2438.2 1215.3 L2432.6 1215.3 L2426.9 1215.3 L2421.3 1215.3 L2415.7 1215.3 L2410.0 1215.3 L2404.3 1215.3 L2398.7 1215.3 L2393.1 1215.3 L2387.4 1215.3 L2381.8 1215.3 L2376.1 1215.3 L2370.4 1215.3 L2364.8 1215.3 L2359.1 1215.3 L2353.5 1215.3 L2347.9 1215.3 L2342.2 1215.3 L2336.6 1215.3 L2330.9 1215.3 L2325.4 1215.3 L2320.0 1215.3 L2314.5 1215.3 L2309.0 1215.3 L2303.5 1215.3 L2298.1 1215.3 L2292.6 1215.3 L2287.1 1215.3 L2281.7 1215.3 L2276.2 1215.3 L2270.7 1215.3 L2265.2 1215.3 L2259.8 1215.3 L2254.3 1215.3 L2248.8 1215.3 L2243.4 1215.3 L2237.9 1215.3 L2232.4 1215.3 L2227.0 1215.3 L2221.5 1215.3 L2216.0 1215.3 L2210.5 1215.3 L2205.1 1215.3 L2199.6 1215.3 L2193.9 1215.3 L2188.3 1215.3 L2182.6 1215.3 L2177.0 1215.3 L2171.3 1215.3 L2165.7 1215.3 L2160.1 1215.3 L2154.4 1215.3 L2148.8 1215.3 L2143.1 1215.3 L2137.4 1215.3 L2131.8 1215.3 L2126.2 1215.3 L2120.5 1215.3 L2114.8 1215.3 L2109.2 1215.3 L2103.5 1215.3 L2097.9 1215.3 L2092.2 1215.3 L2086.6 1215.3 L2080.9 1215.3 L2075.3 1215.3 L2069.6 1215.3 L2064.0 1215.3 L2058.5 1215.3 L2053.1 1215.3 L2047.6 1215.3 L2042.1 1215.3 L2036.6 1215.3 L2031.2 1215.3 L2025.7 1215.3 L2020.2 1215.3 L2014.8 1215.3 L2009.3 1215.3 L2003.8 1215.3 L1998.3 1215.3 L1992.9 1215.3 L1987.4 1215.3 L1981.9 1215.3 L1976.5 1215.3 L1971.0 1215.3 L1965.5 1215.3 L1960.1 1215.3 L1954.6 1215.3 L1949.1 1215.3 L1943.6 1215.3 L1938.2 1215.3 L1932.7 1215.3 L1927.0 1215.3 L1921.4 1215.3 L1915.7 1215.3 L1910.1 1215.3 L1904.4 1215.3 L1898.8 1215.3 L1893.1 1215.3 L1887.5 1215.3 L1881.8 1215.3 L1876.2 1215.3 L1870.5 1215.3 L1864.8 1215.3 L1859.2 1215.3 L1853.5 1215.3 L1847.9 1215.3 L1842.2 1215.3 L1836.6 1215.3 L1830.9 1215.3 L1825.3 1215.3 L1819.6 1215.3 L1814.0 1215.3 L1808.3 1215.3 L1802.7 1215.3 L1797.0 1215.3 L1791.9 1215.2 L1786.8 1214.9 L1781.7 1214.3 L1776.6 1213.6 L1771.5 1212.7 L1766.4 1211.6 L1761.3 1210.4 L1756.2 1209.0 L1751.1 1207.6 L1746.0 1206.0 L1740.9 1204.4 L1735.8 1202.6 L1730.6 1200.8 L1725.5 1199.0 L1720.4 1197.1 L1715.3 1195.2 L1710.2 1193.4 L1705.1 1191.5 L1700.0 1189.6 L1694.9 1187.8 L1689.8 1186.1 L1684.7 1184.4 L1679.6 1182.8 L1674.5 1181.3 L1668.9 1179.8 L1663.2 1178.3 L1657.6 1177.0 L1651.9 1175.8 L1646.2 1174.6 L1640.6 1173.5 L1634.9 1172.4 L1629.3 1171.3 L1623.7 1170.2 L1618.0 1169.1 L1612.3 1168.0 L1606.7 1166.8 L1601.1 1165.5 L1595.4 1164.2 L1589.8 1162.7 L1584.1 1161.1 L1578.4 1159.4 L1572.8 1157.6 L1567.2 1155.5 L1561.5 1153.3 L1555.9 1150.9 L1550.2 1148.3 L1544.6 1145.4 L1538.9 1142.3 L1533.2 1138.6 L1527.6 1133.9 L1521.9 1128.5 L1516.3 1122.2 L1510.6 1115.2 L1505.0 1107.6 L1499.3 1099.3 L1493.7 1090.6 L1488.0 1081.3 L1482.4 1071.6 L1476.7 1061.5 L1471.0 1051.2 L1465.4 1040.6 L1459.7 1029.8 L1454.1 1018.9 L1448.4 1007.9 L1442.8 997.0 L1437.1 986.1 L1431.5 975.3 L1425.8 964.7 L1420.2 954.3 L1414.5 944.3 L1408.9 934.6 L1403.2 925.3 Z" fill="url(#lg2)"/><path d="M1403.2 805.3 L1408.9 817.3 L1414.5 829.9 L1420.2 843.1 L1425.8 856.6 L1431.5 870.6 L1437.1 884.8 L1442.8 899.1 L1448.4 913.6 L1454.1 928.0 L1459.7 942.4 L1465.4 956.6 L1471.0 970.5 L1476.7 984.1 L1482.4 997.3 L1488.0 1009.9 L1493.7 1021.9 L1499.3 1033.2 L1505.0 1043.7 L1510.6 1053.3 L1516.3 1062.0 L1521.9 1069.6 L1527.6 1076.1 L1533.2 1081.4 L1538.9 1085.3 L1544.6 1088.4 L1550.2 1091.2 L1555.9 1093.6 L1561.5 1095.8 L1567.2 1097.8 L1572.8 1099.6 L1578.4 1101.2 L1584.1 1102.6 L1589.8 1103.9 L1595.4 1105.0 L1601.1 1106.1 L1606.7 1107.1 L1612.3 1108.1 L1618.0 1109.1 L1623.7 1110.1 L1629.3 1111.2 L1634.9 1112.3 L1640.6 1113.5 L1646.2 1114.9 L1651.9 1116.4 L1657.6 1118.0 L1663.2 1119.9 L1668.9 1122.0 L1674.5 1124.3 L1679.6 1126.7 L1684.7 1129.3 L1689.8 1132.2 L1694.9 1135.2 L1700.0 1138.5 L1705.1 1141.8 L1710.2 1145.3 L1715.3 1148.9 L1720.4 1152.5 L1725.5 1156.2 L1730.6 1159.9 L1735.8 1163.5 L1740.9 1167.1 L1746.0 1170.6 L1751.1 1173.9 L1756.2 1177.2 L1761.3 1180.2 L1766.4 1183.1 L1771.5 1185.7 L1776.6 1188.1 L1781.7 1190.1 L1786.8 1191.9 L1791.9 1193.3 L1797.0 1194.3 L1802.7 1195.2 L1808.3 1196.1 L1814.0 1196.9 L1819.6 1197.7 L1825.3 1198.4 L1830.9 1199.1 L1836.6 1199.8 L1842.2 1200.4 L1847.9 1201.0 L1853.5 1201.6 L1859.2 1202.1 L1864.8 1202.5 L1870.5 1203.0 L1876.2 1203.4 L1881.8 1203.8 L1887.5 1204.1 L1893.1 1204.4 L1898.8 1204.6 L1904.4 1204.8 L1910.1 1205.0 L1915.7 1205.1 L1921.4 1205.2 L1927.0 1205.3 L1932.7 1205.3 L1938.2 1205.3 L1943.6 1205.3 L1949.1 1205.3 L1954.6 1205.3 L1960.1 1205.3 L1965.5 1205.3 L1971.0 1205.3 L1976.5 1205.3 L1981.9 1205.3 L1987.4 1205.3 L1992.9 1205.3 L1998.3 1205.3 L2003.8 1205.3 L2009.3 1205.3 L2014.8 1205.3 L2020.2 1205.3 L2025.7 1205.3 L2031.2 1205.3 L2036.6 1205.3 L2042.1 1205.3 L2047.6 1205.3 L2053.1 1205.3 L2058.5 1205.3 L2064.0 1205.3 L2069.6 1205.3 L2075.3 1205.3 L2080.9 1205.3 L2086.6 1205.3 L2092.2 1205.3 L2097.9 1205.3 L2103.5 1205.3 L2109.2 1205.3 L2114.8 1205.3 L2120.5 1205.3 L2126.2 1205.3 L2131.8 1205.3 L2137.4 1205.3 L2143.1 1205.3 L2148.8 1205.3 L2154.4 1205.3 L2160.1 1205.3 L2165.7 1205.3 L2171.3 1205.3 L2177.0 1205.3 L2182.6 1205.3 L2188.3 1205.3 L2193.9 1205.3 L2199.6 1205.3 L2205.1 1205.3 L2210.5 1205.3 L2216.0 1205.3 L2221.5 1205.3 L2227.0 1205.3 L2232.4 1205.3 L2237.9 1205.3 L2243.4 1205.3 L2248.8 1205.3 L2254.3 1205.3 L2259.8 1205.3 L2265.2 1205.3 L2270.7 1205.3 L2276.2 1205.3 L2281.7 1205.3 L2287.1 1205.3 L2292.6 1205.3 L2298.1 1205.3 L2303.5 1205.3 L2309.0 1205.3 L2314.5 1205.3 L2320.0 1205.3 L2325.4 1205.3 L2330.9 1205.3 L2336.6 1205.3 L2342.2 1205.3 L2347.9 1205.3 L2353.5 1205.3 L2359.1 1205.3 L2364.8 1205.3 L2370.4 1205.3 L2376.1 1205.3 L2381.8 1205.3 L2387.4 1205.3 L2393.1 1205.3 L2398.7 1205.3 L2404.3 1205.3 L2410.0 1205.3 L2415.7 1205.3 L2421.3 1205.3 L2426.9 1205.3 L2432.6 1205.3 L2438.2 1205.3 L2443.9 1205.3 L2449.6 1205.3 L2455.2 1205.3 L2460.8 1205.3 L2466.5 1205.3 L2466.5 1215.3 L2460.8 1215.3 L2455.2 1215.3 L2449.6 1215.3 L2443.9 1215.3 L2438.2 1215.3 L2432.6 1215.3 L2426.9 1215.3 L2421.3 1215.3 L2415.7 1215.3 L2410.0 1215.3 L2404.3 1215.3 L2398.7 1215.3 L2393.1 1215.3 L2387.4 1215.3 L2381.8 1215.3 L2376.1 1215.3 L2370.4 1215.3 L2364.8 1215.3 L2359.1 1215.3 L2353.5 1215.3 L2347.9 1215.3 L2342.2 1215.3 L2336.6 1215.3 L2330.9 1215.3 L2325.4 1215.3 L2320.0 1215.3 L2314.5 1215.3 L2309.0 1215.3 L2303.5 1215.3 L2298.1 1215.3 L2292.6 1215.3 L2287.1 1215.3 L2281.7 1215.3 L2276.2 1215.3 L2270.7 1215.3 L2265.2 1215.3 L2259.8 1215.3 L2254.3 1215.3 L2248.8 1215.3 L2243.4 1215.3 L2237.9 1215.3 L2232.4 1215.3 L2227.0 1215.3 L2221.5 1215.3 L2216.0 1215.3 L2210.5 1215.3 L2205.1 1215.3 L2199.6 1215.3 L2193.9 1215.3 L2188.3 1215.3 L2182.6 1215.3 L2177.0 1215.3 L2171.3 1215.3 L2165.7 1215.3 L2160.1 1215.3 L2154.4 1215.3 L2148.8 1215.3 L2143.1 1215.3 L2137.4 1215.3 L2131.8 1215.3 L2126.2 1215.3 L2120.5 1215.3 L2114.8 1215.3 L2109.2 1215.3 L2103.5 1215.3 L2097.9 1215.3 L2092.2 1215.3 L2086.6 1215.3 L2080.9 1215.3 L2075.3 1215.3 L2069.6 1215.3 L2064.0 1215.3 L2058.5 1215.3 L2053.1 1215.3 L2047.6 1215.3 L2042.1 1215.3 L2036.6 1215.3 L2031.2 1215.3 L2025.7 1215.3 L2020.2 1215.3 L2014.8 1215.3 L2009.3 1215.3 L2003.8 1215.3 L1998.3 1215.3 L1992.9 1215.3 L1987.4 1215.3 L1981.9 1215.3 L1976.5 1215.3 L1971.0 1215.3 L1965.5 1215.3 L1960.1 1215.3 L1954.6 1215.3 L1949.1 1215.3 L1943.6 1215.3 L1938.2 1215.3 L1932.7 1215.3 L1927.0 1215.3 L1921.4 1215.3 L1915.7 1215.3 L1910.1 1215.3 L1904.4 1215.3 L1898.8 1215.3 L1893.1 1215.3 L1887.5 1215.3 L1881.8 1215.3 L1876.2 1215.3 L1870.5 1215.3 L1864.8 1215.3 L1859.2 1215.3 L1853.5 1215.3 L1847.9 1215.3 L1842.2 1215.3 L1836.6 1215.3 L1830.9 1215.3 L1825.3 1215.3 L1819.6 1215.3 L1814.0 1215.3 L1808.3 1215.3 L1802.7 1215.3 L1797.0 1215.3 L1791.9 1215.1 L1786.8 1214.7 L1781.7 1214.0 L1776.6 1213.0 L1771.5 1211.8 L1766.4 1210.4 L1761.3 1208.9 L1756.2 1207.1 L1751.1 1205.2 L1746.0 1203.2 L1740.9 1201.0 L1735.8 1198.8 L1730.6 1196.5 L1725.5 1194.1 L1720.4 1191.7 L1715.3 1189.3 L1710.2 1187.0 L1705.1 1184.6 L1700.0 1182.3 L1694.9 1180.1 L1689.8 1178.0 L1684.7 1175.9 L1679.6 1174.0 L1674.5 1172.3 L1668.9 1170.5 L1663.2 1168.9 L1657.6 1167.5 L1651.9 1166.1 L1646.2 1164.8 L1640.6 1163.6 L1634.9 1162.5 L1629.3 1161.3 L1623.7 1160.2 L1618.0 1159.1 L1612.3 1158.0 L1606.7 1156.8 L1601.1 1155.6 L1595.4 1154.2 L1589.8 1152.8 L1584.1 1151.3 L1578.4 1149.6 L1572.8 1147.7 L1567.2 1145.7 L1561.5 1143.5 L1555.9 1141.1 L1550.2 1138.4 L1544.6 1135.5 L1538.9 1132.3 L1533.2 1128.4 L1527.6 1123.3 L1521.9 1117.1 L1516.3 1109.9 L1510.6 1101.9 L1505.0 1092.9 L1499.3 1083.2 L1493.7 1072.8 L1488.0 1061.8 L1482.4 1050.3 L1476.7 1038.3 L1471.0 1025.9 L1465.4 1013.2 L1459.7 1000.3 L1454.1 987.2 L1448.4 974.1 L1442.8 960.9 L1437.1 947.8 L1431.5 934.9 L1425.8 922.2 L1420.2 909.8 L1414.5 897.8 L1408.9 886.3 L1403.2 875.3 Z" fill="url(#lg3)"/><line x1="1403" y1="1216.5" x2="2467" y2="1216.5" stroke="#dcdcdc" stroke-width="1.5"/><line x1="1403.2" y1="1216.5" x2="1403.2" y2="1223.5" stroke="#dcdcdc" stroke-width="1.5"/><line x1="1538.9" y1="1216.5" x2="1538.9" y2="1223.5" stroke="#dcdcdc" stroke-width="1.5"/><line x1="1674.5" y1="1216.5" x2="1674.5" y2="1223.5" stroke="#dcdcdc" stroke-width="1.5"/><line x1="1797.0" y1="1216.5" x2="1797.0" y2="1223.5" stroke="#dcdcdc" stroke-width="1.5"/><line x1="1932.7" y1="1216.5" x2="1932.7" y2="1223.5" stroke="#dcdcdc" stroke-width="1.5"/><line x1="2064.0" y1="1216.5" x2="2064.0" y2="1223.5" stroke="#dcdcdc" stroke-width="1.5"/><line x1="2199.6" y1="1216.5" x2="2199.6" y2="1223.5" stroke="#dcdcdc" stroke-width="1.5"/><line x1="2330.9" y1="1216.5" x2="2330.9" y2="1223.5" stroke="#dcdcdc" stroke-width="1.5"/><line x1="2466.5" y1="1216.5" x2="2466.5" y2="1223.5" stroke="#dcdcdc" stroke-width="1.5"/><path d="M1403.2 805.3 C1448.4 898.6 1493.7 1059.3 1538.9 1085.3 C1584.1 1111.3 1629.3 1104.6 1674.5 1124.3 C1715.3 1142.1 1756.2 1187.7 1797.0 1194.3 C1842.2 1201.6 1887.5 1205.3 1932.7 1205.3 C1976.5 1205.3 2020.2 1205.3 2064.0 1205.3 C2109.2 1205.3 2154.4 1205.3 2199.6 1205.3 C2243.4 1205.3 2287.1 1205.3 2330.9 1205.3 C2376.1 1205.3 2421.3 1205.3 2466.5 1205.3" fill="none" stroke="#e5b331" stroke-width="2.1"/><path d="M1403.2 875.3 C1448.4 961.0 1493.7 1105.6 1538.9 1132.3 C1584.1 1159.0 1629.3 1157.6 1674.5 1172.3 C1715.3 1185.5 1756.2 1215.3 1797.0 1215.3 C1842.2 1215.3 1887.5 1215.3 1932.7 1215.3 C1976.5 1215.3 2020.2 1215.3 2064.0 1215.3 C2109.2 1215.3 2154.4 1215.3 2199.6 1215.3 C2243.4 1215.3 2287.1 1215.3 2330.9 1215.3 C2376.1 1215.3 2421.3 1215.3 2466.5 1215.3" fill="none" stroke="#5fbd8c" stroke-width="2.1"/><path d="M1403.2 925.3 C1448.4 997.6 1493.7 1116.3 1538.9 1142.3 C1584.1 1168.3 1629.3 1168.5 1674.5 1181.3 C1715.3 1192.8 1756.2 1215.3 1797.0 1215.3 C1842.2 1215.3 1887.5 1215.3 1932.7 1215.3 C1976.5 1215.3 2020.2 1215.3 2064.0 1215.3 C2109.2 1215.3 2154.4 1215.3 2199.6 1215.3 C2243.4 1215.3 2287.1 1215.3 2330.9 1215.3 C2376.1 1215.3 2421.3 1215.3 2466.5 1215.3" fill="none" stroke="#a77dda" stroke-width="2.1"/><path d="M1403.2 975.3 C1448.4 1038.0 1493.7 1150.6 1538.9 1163.3 C1584.1 1176.0 1629.3 1172.9 1674.5 1182.3 C1715.3 1190.8 1756.2 1215.3 1797.0 1215.3 C1842.2 1215.3 1887.5 1215.3 1932.7 1215.3 C1976.5 1215.3 2020.2 1215.3 2064.0 1215.3 C2109.2 1215.3 2154.4 1215.3 2199.6 1215.3 C2243.4 1215.3 2287.1 1215.3 2330.9 1215.3 C2376.1 1215.3 2421.3 1215.3 2466.5 1215.3" fill="none" stroke="#e9874a" stroke-width="2.1"/><defs><linearGradient id="mg" gradientUnits="userSpaceOnUse" x1="1790" y1="0" x2="1860" y2="0"><stop offset="0" stop-color="#c39b8e" stop-opacity="0"/><stop offset="1" stop-color="#c39b8e" stop-opacity="1"/></linearGradient></defs><path d="M1790 1215.3 H2466.5" fill="none" stroke="url(#mg)" stroke-width="2.1"/><text x="1537.5" y="1075" text-anchor="middle" font-size="19.5" fill="#6f6e69">13</text><text x="1673.5" y="1114.4" text-anchor="middle" font-size="19.5" fill="#6f6e69">9</text><text x="1795.3" y="1183" text-anchor="middle" font-size="19.5" fill="#6f6e69">2</text><text x="1929.7" y="1193.2" text-anchor="middle" font-size="19.5" fill="#6f6e69">1</text><text x="2466.5" y="1193.2" text-anchor="end" font-size="19.5" fill="#6f6e69">1</text></svg>
<div class="a" style="left:1369.4px;top:1231.6px;font-size:19.5px;color:#6f6e69;letter-spacing:0.3px;">2024<span class="k" style="font-size:0.96em;letter-spacing:-0.1em">년</span> 1...</div>
<div class="a" style="left:1491.4px;top:1231.6px;font-size:19.5px;color:#6f6e69;letter-spacing:0.3px;">2025<span class="k" style="font-size:0.96em;letter-spacing:-0.1em">년</span> 1<span class="k" style="font-size:0.96em;letter-spacing:-0.1em">월</span></div>
<div class="a" style="left:1625.0px;top:1231.6px;font-size:19.5px;color:#6f6e69;letter-spacing:0.3px;">2025<span class="k" style="font-size:0.96em;letter-spacing:-0.1em">년</span> 2<span class="k" style="font-size:0.96em;letter-spacing:-0.1em">월</span></div>
<div class="a" style="left:1748.0px;top:1231.6px;font-size:19.5px;color:#6f6e69;letter-spacing:0.3px;">2025<span class="k" style="font-size:0.96em;letter-spacing:-0.1em">년</span> 3<span class="k" style="font-size:0.96em;letter-spacing:-0.1em">월</span></div>
<div class="a" style="left:1883.9px;top:1231.6px;font-size:19.5px;color:#6f6e69;letter-spacing:0.3px;">2025<span class="k" style="font-size:0.96em;letter-spacing:-0.1em">년</span> 4<span class="k" style="font-size:0.96em;letter-spacing:-0.1em">월</span></div>
<div class="a" style="left:2014.4px;top:1231.6px;font-size:19.5px;color:#6f6e69;letter-spacing:0.3px;">2025<span class="k" style="font-size:0.96em;letter-spacing:-0.1em">년</span> 5<span class="k" style="font-size:0.96em;letter-spacing:-0.1em">월</span></div>
<div class="a" style="left:2150.0px;top:1231.6px;font-size:19.5px;color:#6f6e69;letter-spacing:0.3px;">2025<span class="k" style="font-size:0.96em;letter-spacing:-0.1em">년</span> 6<span class="k" style="font-size:0.96em;letter-spacing:-0.1em">월</span></div>
<div class="a" style="left:2282.0px;top:1231.6px;font-size:19.5px;color:#6f6e69;letter-spacing:0.3px;">2025<span class="k" style="font-size:0.96em;letter-spacing:-0.1em">년</span> 7<span class="k" style="font-size:0.96em;letter-spacing:-0.1em">월</span></div>
<div class="a" style="left:2399.2px;top:1231.6px;font-size:19.5px;color:#6f6e69;letter-spacing:0.3px;">2025...</div>
<div class="a" style="left:1588.5px;top:1298.5px;width:25.0px;height:3.0px;background:#e3e3e3;"></div>
<div class="a" style="left:1618.3px;top:1290.6px;font-size:19.5px;color:#6f6e69;"><span class="k" style="font-size:0.96em;letter-spacing:-0.1em">소속팀</span> <span class="k" style="font-size:0.96em;letter-spacing:-0.1em">없음</span></div>
<div class="a" style="left:1740.0px;top:1298.5px;width:25.0px;height:3.0px;background:#e5b331;"></div>
<div class="a" style="left:1770.0px;top:1290.6px;font-size:19.5px;color:#6f6e69;"><span class="k" style="font-size:0.96em;letter-spacing:-0.1em">개발</span>1<span class="k" style="font-size:0.96em;letter-spacing:-0.1em">팀</span></div>
<div class="a" style="left:1863.0px;top:1298.5px;width:25.0px;height:3.0px;background:#5fbd8c;"></div>
<div class="a" style="left:1892.7px;top:1290.6px;font-size:19.5px;color:#6f6e69;"><span class="k" style="font-size:0.96em;letter-spacing:-0.1em">개발</span>3<span class="k" style="font-size:0.96em;letter-spacing:-0.1em">팀</span></div>
<div class="a" style="left:1986.0px;top:1298.5px;width:25.0px;height:3.0px;background:#a77dda;"></div>
<div class="a" style="left:2016.3px;top:1290.6px;font-size:19.5px;color:#6f6e69;"><span class="k" style="font-size:0.96em;letter-spacing:-0.1em">동부개발팀</span></div>
<div class="a" style="left:2133.6px;top:1298.5px;width:25.0px;height:3.0px;background:#e9874a;"></div>
<div class="a" style="left:2163.8px;top:1290.6px;font-size:19.5px;color:#6f6e69;"><span class="k" style="font-size:0.96em;letter-spacing:-0.1em">서부개발팀</span></div>
<svg class="a" style="left:0;top:0" width="3840" height="2110" viewBox="0 0 3840 2110" font-family="Liberation Sans, sans-serif"><path d="M3120.00 857.00 A171.8 171.8 0 0 1 3152.03 860.01 L3147.45 884.18 A147.2 147.2 0 0 0 3120.00 881.60 Z" fill="#2f95e8" stroke="#fff" stroke-width="2"/><path d="M3152.03 860.01 A171.8 171.8 0 0 1 3167.70 863.75 L3160.87 887.39 A147.2 147.2 0 0 0 3147.45 884.18 Z" fill="#e5b331" stroke="#fff" stroke-width="2"/><path d="M3167.70 863.75 A171.8 171.8 0 0 1 3182.94 868.95 L3173.93 891.84 A147.2 147.2 0 0 0 3160.87 887.39 Z" fill="#5fbd8c" stroke="#fff" stroke-width="2"/><path d="M3182.94 868.95 A171.8 171.8 0 0 1 3197.64 875.54 L3186.52 897.49 A147.2 147.2 0 0 0 3173.93 891.84 Z" fill="#a77dda" stroke="#fff" stroke-width="2"/><path d="M3197.64 875.54 A171.8 171.8 0 0 1 3211.65 883.49 L3198.52 904.29 A147.2 147.2 0 0 0 3186.52 897.49 Z" fill="#ea8745" stroke="#fff" stroke-width="2"/><path d="M3211.65 883.49 A171.8 171.8 0 0 1 3224.85 892.71 L3209.84 912.19 A147.2 147.2 0 0 0 3198.52 904.29 Z" fill="#dd5f9f" stroke="#fff" stroke-width="2"/><path d="M3224.85 892.71 A171.8 171.8 0 0 1 3237.13 903.12 L3220.36 921.12 A147.2 147.2 0 0 0 3209.84 912.19 Z" fill="#0db6d1" stroke="#fff" stroke-width="2"/><path d="M3237.13 903.12 A171.8 171.8 0 0 1 3248.39 914.64 L3230.00 930.99 A147.2 147.2 0 0 0 3220.36 921.12 Z" fill="#e05c55" stroke="#fff" stroke-width="2"/><path d="M3248.39 914.64 A171.8 171.8 0 0 1 3258.51 927.17 L3238.68 941.72 A147.2 147.2 0 0 0 3230.00 930.99 Z" fill="#2f95e8" stroke="#fff" stroke-width="2"/><path d="M3258.51 927.17 A171.8 171.8 0 0 1 3267.42 940.59 L3246.31 953.22 A147.2 147.2 0 0 0 3238.68 941.72 Z" fill="#e5b331" stroke="#fff" stroke-width="2"/><path d="M3267.42 940.59 A171.8 171.8 0 0 1 3275.04 954.78 L3252.84 965.38 A147.2 147.2 0 0 0 3246.31 953.22 Z" fill="#5fbd8c" stroke="#fff" stroke-width="2"/><path d="M3275.04 954.78 A171.8 171.8 0 0 1 3281.29 969.62 L3258.19 978.09 A147.2 147.2 0 0 0 3252.84 965.38 Z" fill="#a77dda" stroke="#fff" stroke-width="2"/><path d="M3281.29 969.62 A171.8 171.8 0 0 1 3286.12 984.98 L3262.33 991.26 A147.2 147.2 0 0 0 3258.19 978.09 Z" fill="#ea8745" stroke="#fff" stroke-width="2"/><path d="M3286.12 984.98 A171.8 171.8 0 0 1 3289.49 1000.73 L3265.22 1004.75 A147.2 147.2 0 0 0 3262.33 991.26 Z" fill="#dd5f9f" stroke="#fff" stroke-width="2"/><path d="M3289.49 1000.73 A171.8 171.8 0 0 1 3291.38 1016.73 L3266.84 1018.46 A147.2 147.2 0 0 0 3265.22 1004.75 Z" fill="#0db6d1" stroke="#fff" stroke-width="2"/><path d="M3291.38 1016.73 A171.8 171.8 0 0 1 3291.75 1032.83 L3267.16 1032.25 A147.2 147.2 0 0 0 3266.84 1018.46 Z" fill="#e05c55" stroke="#fff" stroke-width="2"/><path d="M3291.75 1032.83 A171.8 171.8 0 0 1 3290.62 1048.89 L3266.19 1046.02 A147.2 147.2 0 0 0 3267.16 1032.25 Z" fill="#2f95e8" stroke="#fff" stroke-width="2"/><path d="M3290.62 1048.89 A171.8 171.8 0 0 1 3287.99 1064.78 L3263.94 1059.63 A147.2 147.2 0 0 0 3266.19 1046.02 Z" fill="#e5b331" stroke="#fff" stroke-width="2"/><path d="M3287.99 1064.78 A171.8 171.8 0 0 1 3283.88 1080.35 L3260.42 1072.97 A147.2 147.2 0 0 0 3263.94 1059.63 Z" fill="#5fbd8c" stroke="#fff" stroke-width="2"/><path d="M3283.88 1080.35 A171.8 171.8 0 0 1 3278.33 1095.47 L3255.66 1085.93 A147.2 147.2 0 0 0 3260.42 1072.97 Z" fill="#a77dda" stroke="#fff" stroke-width="2"/><path d="M3278.33 1095.47 A171.8 171.8 0 0 1 3271.40 1110.01 L3249.72 1098.38 A147.2 147.2 0 0 0 3255.66 1085.93 Z" fill="#ea8745" stroke="#fff" stroke-width="2"/><path d="M3271.40 1110.01 A171.8 171.8 0 0 1 3263.13 1123.83 L3242.63 1110.22 A147.2 147.2 0 0 0 3249.72 1098.38 Z" fill="#dd5f9f" stroke="#fff" stroke-width="2"/><path d="M3263.13 1123.83 A171.8 171.8 0 0 1 3253.60 1136.81 L3234.47 1121.35 A147.2 147.2 0 0 0 3242.63 1110.22 Z" fill="#0db6d1" stroke="#fff" stroke-width="2"/><path d="M3253.60 1136.81 A171.8 171.8 0 0 1 3242.90 1148.85 L3225.30 1131.66 A147.2 147.2 0 0 0 3234.47 1121.35 Z" fill="#e05c55" stroke="#fff" stroke-width="2"/><path d="M3242.90 1148.85 A171.8 171.8 0 0 1 3231.12 1159.83 L3215.20 1141.07 A147.2 147.2 0 0 0 3225.30 1131.66 Z" fill="#2f95e8" stroke="#fff" stroke-width="2"/><path d="M3231.12 1159.83 A171.8 171.8 0 0 1 3218.36 1169.66 L3204.27 1149.49 A147.2 147.2 0 0 0 3215.20 1141.07 Z" fill="#e5b331" stroke="#fff" stroke-width="2"/><path d="M3218.36 1169.66 A171.8 171.8 0 0 1 3204.73 1178.25 L3192.60 1156.85 A147.2 147.2 0 0 0 3204.27 1149.49 Z" fill="#5fbd8c" stroke="#fff" stroke-width="2"/><path d="M3204.73 1178.25 A171.8 171.8 0 0 1 3190.37 1185.53 L3180.29 1163.09 A147.2 147.2 0 0 0 3192.60 1156.85 Z" fill="#a77dda" stroke="#fff" stroke-width="2"/><path d="M3190.37 1185.53 A171.8 171.8 0 0 1 3175.38 1191.43 L3167.45 1168.14 A147.2 147.2 0 0 0 3180.29 1163.09 Z" fill="#ea8745" stroke="#fff" stroke-width="2"/><path d="M3175.38 1191.43 A171.8 171.8 0 0 1 3159.91 1195.90 L3154.20 1171.97 A147.2 147.2 0 0 0 3167.45 1168.14 Z" fill="#dd5f9f" stroke="#fff" stroke-width="2"/><path d="M3159.91 1195.90 A171.8 171.8 0 0 1 3144.09 1198.90 L3140.64 1174.55 A147.2 147.2 0 0 0 3154.20 1171.97 Z" fill="#0db6d1" stroke="#fff" stroke-width="2"/><path d="M3144.09 1198.90 A171.8 171.8 0 0 1 3128.05 1200.41 L3126.90 1175.84 A147.2 147.2 0 0 0 3140.64 1174.55 Z" fill="#e05c55" stroke="#fff" stroke-width="2"/><path d="M3128.05 1200.41 A171.8 171.8 0 0 1 3111.95 1200.41 L3113.10 1175.84 A147.2 147.2 0 0 0 3126.90 1175.84 Z" fill="#2f95e8" stroke="#fff" stroke-width="2"/><path d="M3111.95 1200.41 A171.8 171.8 0 0 1 3095.91 1198.90 L3099.36 1174.55 A147.2 147.2 0 0 0 3113.10 1175.84 Z" fill="#e5b331" stroke="#fff" stroke-width="2"/><path d="M3095.91 1198.90 A171.8 171.8 0 0 1 3080.09 1195.90 L3085.80 1171.97 A147.2 147.2 0 0 0 3099.36 1174.55 Z" fill="#5fbd8c" stroke="#fff" stroke-width="2"/><path d="M3080.09 1195.90 A171.8 171.8 0 0 1 3064.62 1191.43 L3072.55 1168.14 A147.2 147.2 0 0 0 3085.80 1171.97 Z" fill="#a77dda" stroke="#fff" stroke-width="2"/><path d="M3064.62 1191.43 A171.8 171.8 0 0 1 3049.63 1185.53 L3059.71 1163.09 A147.2 147.2 0 0 0 3072.55 1168.14 Z" fill="#ea8745" stroke="#fff" stroke-width="2"/><path d="M3049.63 1185.53 A171.8 171.8 0 0 1 3035.27 1178.25 L3047.40 1156.85 A147.2 147.2 0 0 0 3059.71 1163.09 Z" fill="#dd5f9f" stroke="#fff" stroke-width="2"/><path d="M3035.27 1178.25 A171.8 171.8 0 0 1 3021.64 1169.66 L3035.73 1149.49 A147.2 147.2 0 0 0 3047.40 1156.85 Z" fill="#0db6d1" stroke="#fff" stroke-width="2"/><path d="M3021.64 1169.66 A171.8 171.8 0 0 1 3008.88 1159.83 L3024.80 1141.07 A147.2 147.2 0 0 0 3035.73 1149.49 Z" fill="#e05c55" stroke="#fff" stroke-width="2"/><path d="M3008.88 1159.83 A171.8 171.8 0 0 1 2997.10 1148.85 L3014.70 1131.66 A147.2 147.2 0 0 0 3024.80 1141.07 Z" fill="#2f95e8" stroke="#fff" stroke-width="2"/><path d="M2997.10 1148.85 A171.8 171.8 0 0 1 2986.40 1136.81 L3005.53 1121.35 A147.2 147.2 0 0 0 3014.70 1131.66 Z" fill="#e5b331" stroke="#fff" stroke-width="2"/><path d="M2986.40 1136.81 A171.8 171.8 0 0 1 2976.87 1123.83 L2997.37 1110.22 A147.2 147.2 0 0 0 3005.53 1121.35 Z" fill="#5fbd8c" stroke="#fff" stroke-width="2"/><path d="M2976.87 1123.83 A171.8 171.8 0 0 1 2968.60 1110.01 L2990.28 1098.38 A147.2 147.2 0 0 0 2997.37 1110.22 Z" fill="#a77dda" stroke="#fff" stroke-width="2"/><path d="M2968.60 1110.01 A171.8 171.8 0 0 1 2961.67 1095.47 L2984.34 1085.93 A147.2 147.2 0 0 0 2990.28 1098.38 Z" fill="#ea8745" stroke="#fff" stroke-width="2"/><path d="M2961.67 1095.47 A171.8 171.8 0 0 1 2956.12 1080.35 L2979.58 1072.97 A147.2 147.2 0 0 0 2984.34 1085.93 Z" fill="#dd5f9f" stroke="#fff" stroke-width="2"/><path d="M2956.12 1080.35 A171.8 171.8 0 0 1 2952.01 1064.78 L2976.06 1059.63 A147.2 147.2 0 0 0 2979.58 1072.97 Z" fill="#0db6d1" stroke="#fff" stroke-width="2"/><path d="M2952.01 1064.78 A171.8 171.8 0 0 1 2949.38 1048.89 L2973.81 1046.02 A147.2 147.2 0 0 0 2976.06 1059.63 Z" fill="#e05c55" stroke="#fff" stroke-width="2"/><path d="M2949.38 1048.89 A171.8 171.8 0 0 1 2948.25 1032.83 L2972.84 1032.25 A147.2 147.2 0 0 0 2973.81 1046.02 Z" fill="#2f95e8" stroke="#fff" stroke-width="2"/><path d="M2948.25 1032.83 A171.8 171.8 0 0 1 2948.62 1016.73 L2973.16 1018.46 A147.2 147.2 0 0 0 2972.84 1032.25 Z" fill="#e5b331" stroke="#fff" stroke-width="2"/><path d="M2948.62 1016.73 A171.8 171.8 0 0 1 2950.51 1000.73 L2974.78 1004.75 A147.2 147.2 0 0 0 2973.16 1018.46 Z" fill="#5fbd8c" stroke="#fff" stroke-width="2"/><path d="M2950.51 1000.73 A171.8 171.8 0 0 1 2953.88 984.98 L2977.67 991.26 A147.2 147.2 0 0 0 2974.78 1004.75 Z" fill="#a77dda" stroke="#fff" stroke-width="2"/><path d="M2953.88 984.98 A171.8 171.8 0 0 1 2958.71 969.62 L2981.81 978.09 A147.2 147.2 0 0 0 2977.67 991.26 Z" fill="#ea8745" stroke="#fff" stroke-width="2"/><path d="M2958.71 969.62 A171.8 171.8 0 0 1 2964.96 954.78 L2987.16 965.38 A147.2 147.2 0 0 0 2981.81 978.09 Z" fill="#dd5f9f" stroke="#fff" stroke-width="2"/><path d="M2964.96 954.78 A171.8 171.8 0 0 1 2972.58 940.59 L2993.69 953.22 A147.2 147.2 0 0 0 2987.16 965.38 Z" fill="#0db6d1" stroke="#fff" stroke-width="2"/><path d="M2972.58 940.59 A171.8 171.8 0 0 1 2981.49 927.17 L3001.32 941.72 A147.2 147.2 0 0 0 2993.69 953.22 Z" fill="#e05c55" stroke="#fff" stroke-width="2"/><path d="M2981.49 927.17 A171.8 171.8 0 0 1 2991.61 914.64 L3010.00 930.99 A147.2 147.2 0 0 0 3001.32 941.72 Z" fill="#2f95e8" stroke="#fff" stroke-width="2"/><path d="M2991.61 914.64 A171.8 171.8 0 0 1 3002.87 903.12 L3019.64 921.12 A147.2 147.2 0 0 0 3010.00 930.99 Z" fill="#e5b331" stroke="#fff" stroke-width="2"/><path d="M3002.87 903.12 A171.8 171.8 0 0 1 3015.15 892.71 L3030.16 912.19 A147.2 147.2 0 0 0 3019.64 921.12 Z" fill="#5fbd8c" stroke="#fff" stroke-width="2"/><path d="M3015.15 892.71 A171.8 171.8 0 0 1 3028.35 883.49 L3041.48 904.29 A147.2 147.2 0 0 0 3030.16 912.19 Z" fill="#a77dda" stroke="#fff" stroke-width="2"/><path d="M3028.35 883.49 A171.8 171.8 0 0 1 3042.36 875.54 L3053.48 897.49 A147.2 147.2 0 0 0 3041.48 904.29 Z" fill="#ea8745" stroke="#fff" stroke-width="2"/><path d="M3042.36 875.54 A171.8 171.8 0 0 1 3057.06 868.95 L3066.07 891.84 A147.2 147.2 0 0 0 3053.48 897.49 Z" fill="#dd5f9f" stroke="#fff" stroke-width="2"/><path d="M3057.06 868.95 A171.8 171.8 0 0 1 3072.30 863.75 L3079.13 887.39 A147.2 147.2 0 0 0 3066.07 891.84 Z" fill="#0db6d1" stroke="#fff" stroke-width="2"/><path d="M3072.30 863.75 A171.8 171.8 0 0 1 3087.97 860.01 L3092.55 884.18 A147.2 147.2 0 0 0 3079.13 887.39 Z" fill="#e05c55" stroke="#fff" stroke-width="2"/><path d="M3087.97 860.01 A171.8 171.8 0 0 1 3103.91 857.75 L3106.22 882.25 A147.2 147.2 0 0 0 3092.55 884.18 Z" fill="#2f95e8" stroke="#fff" stroke-width="2"/><path d="M3103.91 857.75 A171.8 171.8 0 0 1 3120.00 857.00 L3120.00 881.60 A147.2 147.2 0 0 0 3106.22 882.25 Z" fill="#e5b331" stroke="#fff" stroke-width="2"/><line x1="3101.7" y1="808.3" x2="3111.8" y2="855.2" stroke="#e2e2e2" stroke-width="1.5"/><line x1="3148.3" y1="808.3" x2="3136.3" y2="856.8" stroke="#e2e2e2" stroke-width="1.5"/><line x1="3252.3" y1="846.7" x2="3160" y2="860.7" stroke="#e2e2e2" stroke-width="1.5"/><line x1="3295.8" y1="884.4" x2="3176.2" y2="865.3" stroke="#e2e2e2" stroke-width="1.5"/><line x1="2908.6" y1="942.6" x2="2954.5" y2="976.8" stroke="#e2e2e2" stroke-width="1.5"/><line x1="2895.7" y1="980.4" x2="2947.2" y2="1006.9" stroke="#e2e2e2" stroke-width="1.5"/><line x1="2892.1" y1="1020.1" x2="2947.2" y2="1056.9" stroke="#e2e2e2" stroke-width="1.5"/><line x1="2893.9" y1="1057.6" x2="2950.8" y2="1072.3" stroke="#e2e2e2" stroke-width="1.5"/><line x1="2902" y1="1096.2" x2="2980.2" y2="1131.1" stroke="#e2e2e2" stroke-width="1.5"/><line x1="2918.9" y1="1134.8" x2="3011.5" y2="1164.2" stroke="#e2e2e2" stroke-width="1.5"/><line x1="2944.2" y1="1173" x2="3029.8" y2="1175.2" stroke="#e2e2e2" stroke-width="1.5"/><line x1="2988.3" y1="1210.8" x2="3070.3" y2="1195.4" stroke="#e2e2e2" stroke-width="1.5"/><line x1="3071" y1="1248.7" x2="3086.8" y2="1199.1" stroke="#e2e2e2" stroke-width="1.5"/><text x="3011.6" y="817.3" font-size="19.5" fill="#acacaa" textLength="71.4" lengthAdjust="spacing">1 (1.5%)</text><text x="3159.7" y="817.0" font-size="19.5" fill="#acacaa" textLength="75.5" lengthAdjust="spacing">2 (3.0%)</text><text x="3263.0" y="855.2" font-size="19.5" fill="#acacaa" textLength="70.7" lengthAdjust="spacing">1 (1.5%)</text><text x="3306.0" y="892.8" font-size="19.5" fill="#acacaa" textLength="71.0" lengthAdjust="spacing">1 (1.5%)</text><text x="2819.4" y="951.4" font-size="19.5" fill="#acacaa" textLength="70.8" lengthAdjust="spacing">1 (1.5%)</text><text x="2806.6" y="989.2" font-size="19.5" fill="#acacaa" textLength="70.8" lengthAdjust="spacing">1 (1.5%)</text><text x="2802.1" y="1028.5" font-size="19.5" fill="#acacaa" textLength="70.9" lengthAdjust="spacing">1 (1.5%)</text><text x="2803.6" y="1066.4" font-size="19.5" fill="#acacaa" textLength="70.8" lengthAdjust="spacing">1 (1.5%)</text><text x="2811.3" y="1105.0" font-size="19.5" fill="#acacaa" textLength="70.8" lengthAdjust="spacing">1 (1.5%)</text><text x="2827.9" y="1143.5" font-size="19.5" fill="#acacaa" textLength="70.8" lengthAdjust="spacing">1 (1.5%)</text><text x="2854.3" y="1181.8" font-size="19.5" fill="#acacaa" textLength="71.6" lengthAdjust="spacing">1 (1.5%)</text><text x="2898.4" y="1219.6" font-size="19.5" fill="#acacaa" textLength="70.8" lengthAdjust="spacing">1 (1.5%)</text><text x="2981.1" y="1258.2" font-size="19.5" fill="#acacaa" textLength="71.5" lengthAdjust="spacing">1 (1.5%)</text></svg>
<div class="a" style="left:3058.3px;top:968.3px;font-size:102px;color:#32302c;transform:scaleX(1.1);transform-origin:0 0;">67</div>
<div class="a" style="left:3101.4px;top:1078.2px;font-size:19px;color:#787774;"><span class="k" style="font-size:0.96em;letter-spacing:-0.1em">합계</span></div>
<svg class="a" style="left:167.0px;top:1441.0px" width="24" height="20" viewBox="0 0 24 20"><rect x="1" y="1" width="22" height="18" rx="4" fill="none" stroke="#37352f" stroke-width="1.8"/><path d="M12 1 V19 M1 7 H23 M1 12.8 H23" stroke="#37352f" stroke-width="1.8"/></svg>
<div class="a" style="left:203.0px;top:1439.3px;font-size:23px;color:#37352f;"><span class="k" style="font-size:0.96em;letter-spacing:-0.1em">계약만기</span></div>
<svg class="a" style="left:311.4px;top:1441.0px" width="24" height="20" viewBox="0 0 24 20"><rect x="1" y="1" width="22" height="18" rx="4" fill="none" stroke="#787774" stroke-width="1.8"/><path d="M12 1 V19 M1 7 H23 M1 12.8 H23" stroke="#787774" stroke-width="1.8"/></svg>
<div class="a" style="left:347.8px;top:1439.3px;font-size:23px;color:#787774;"><span class="k" style="font-size:0.96em;letter-spacing:-0.1em">계약만기</span>(<span class="k" style="font-size:0.96em;letter-spacing:-0.1em">그룹</span>X)</div>
<svg class="a" style="left:529.2px;top:1439.2px" width="21.5" height="21.5" viewBox="0 0 21.5 21.5"><rect x="1" y="1" width="19.5" height="19.5" rx="3.5" fill="none" stroke="#787774" stroke-width="1.8"/><path d="M1 5 Q1 1 4.5 1 H17 Q20.5 1 20.5 5 V6 H1 Z" fill="#787774"/><circle cx="8.5" cy="9" r="0.9" fill="#787774"/><circle cx="12" cy="9" r="0.9" fill="#787774"/><circle cx="15.5" cy="9" r="0.9" fill="#787774"/><circle cx="5" cy="12.5" r="0.9" fill="#787774"/><circle cx="8.5" cy="12.5" r="0.9" fill="#787774"/><circle cx="12" cy="12.5" r="0.9" fill="#787774"/><circle cx="15.5" cy="12.5" r="0.9" fill="#787774"/><circle cx="5" cy="16" r="0.9" fill="#787774"/><circle cx="8.5" cy="16" r="0.9" fill="#787774"/><circle cx="12" cy="16" r="0.9" fill="#787774"/></svg>
<div class="a" style="left:564.5px;top:1439.8px;font-size:22.7px;color:#787774;letter-spacing:-0.2px;">HISTORY</div>
<svg class="a" style="left:692.7px;top:1439.2px" width="21.5" height="21.5" viewBox="0 0 21.5 21.5"><rect x="1" y="1" width="19.5" height="19.5" rx="3.5" fill="none" stroke="#787774" stroke-width="1.8"/><path d="M1 5 Q1 1 4.5 1 H17 Q20.5 1 20.5 5 V6 H1 Z" fill="#787774"/><circle cx="8.5" cy="9" r="0.9" fill="#787774"/><circle cx="12" cy="9" r="0.9" fill="#787774"/><circle cx="15.5" cy="9" r="0.9" fill="#787774"/><circle cx="5" cy="12.5" r="0.9" fill="#787774"/><circle cx="8.5" cy="12.5" r="0.9" fill="#787774"/><circle cx="12" cy="12.5" r="0.9" fill="#787774"/><circle cx="15.5" cy="12.5" r="0.9" fill="#787774"/><circle cx="5" cy="16" r="0.9" fill="#787774"/><circle cx="8.5" cy="16" r="0.9" fill="#787774"/><circle cx="12" cy="16" r="0.9" fill="#787774"/></svg>
<div class="a" style="left:728.5px;top:1439.8px;font-size:22.7px;color:#787774;letter-spacing:0.3px;">TEAM</div>
<div class="a" style="left:150.0px;top:1481.0px;width:3533.0px;height:1.5px;background:#e9e9e7;"></div>
<div class="a" style="left:150.0px;top:1479.0px;width:145.0px;height:3.0px;background:#37352f;"></div>
<svg class="a" style="left:164.0px;top:1511.5px" width="13" height="11.5" viewBox="0 0 13 11.5"><path d="M0 0 H13 L6.5 11.5 Z" fill="#37352f"/></svg>
<div class="a" style="left:193.6px;top:1505.8px;font-size:24px;color:#37352f;letter-spacing:0.4px;-webkit-text-stroke:0.55px #37352f;">2024<span class="kb" style="font-size:0.96em;letter-spacing:-0.08em">년</span> 12<span class="kb" style="font-size:0.96em;letter-spacing:-0.08em">월</span></div>
<div class="a" style="left:344.9px;top:1505.8px;font-size:24px;color:#a4a4a2;letter-spacing:1px;">41</div>
<div class="a" style="left:163.2px;top:1565.6px;font-size:22.5px;color:#858480;">№</div>
<div class="a" style="left:201.1px;top:1565.6px;font-size:22.5px;color:#858480;letter-spacing:0.5px;">ID</div>
<div class="a" style="left:273.1px;top:1565.6px;font-size:22.5px;color:#858480;letter-spacing:0.5px;">Aa</div>
<div class="a" style="left:312.1px;top:1565.4px;font-size:22.5px;color:#858480;"><span class="k" style="font-size:0.96em;letter-spacing:-0.11em">물건명</span></div>
<svg class="a" style="left:548.0px;top:1567.5px" width="18" height="16" viewBox="0 0 18 16"><path d="M1.5 15 L16 1.2 M3.5 1.2 H16 V13" fill="none" stroke="#858480" stroke-width="2"/></svg>
<div class="a" style="left:581.1px;top:1565.4px;font-size:22.5px;color:#858480;"><span class="k" style="font-size:0.96em;letter-spacing:-0.11em">소속팀</span></div>
<svg class="a" style="left:735.7px;top:1569.0px" width="23" height="17" viewBox="0 0 23 17"><path d="M0 1.5 H22 M0 6.5 H22 M0 11.5 H22 M0 16 H13" stroke="#858480" stroke-width="1.8"/></svg>
<div class="a" style="left:771.1px;top:1565.4px;font-size:22.5px;color:#858480;"><span class="k" style="font-size:0.96em;letter-spacing:-0.11em">마케터</span></div>
<svg class="a" style="left:895.0px;top:1565.5px" width="23" height="23" viewBox="0 0 23 23"><circle cx="11.5" cy="11.5" r="10.3" fill="none" stroke="#858480" stroke-width="1.9"/><path d="M7 9.5 H16 L11.5 15 Z" fill="#858480"/></svg>
<div class="a" style="left:931.1px;top:1565.4px;font-size:22.5px;color:#858480;"><span class="k" style="font-size:0.96em;letter-spacing:-0.11em">직군</span></div>
<svg class="a" style="left:1055.9px;top:1565.5px" width="23" height="23" viewBox="0 0 23 23"><circle cx="11.5" cy="11.5" r="10.3" fill="none" stroke="#858480" stroke-width="1.9"/><path d="M7 9.5 H16 L11.5 15 Z" fill="#858480"/></svg>
<div class="a" style="left:1090.7px;top:1565.4px;font-size:22.5px;color:#858480;"><span class="k" style="font-size:0.96em;letter-spacing:-0.11em">지역</span>1</div>
<svg class="a" style="left:1217.3px;top:1567.5px" width="19" height="17" viewBox="0 0 19 17"><path d="M6.5 0.5 L4 16.5 M14.5 0.5 L12 16.5 M1 5.5 H18.5 M0 11.5 H17.5" fill="none" stroke="#858480" stroke-width="2"/></svg>
<div class="a" style="left:1251.4px;top:1565.4px;font-size:22.5px;color:#858480;"><span class="k" style="font-size:0.96em;letter-spacing:-0.11em">년매출</span></div>
<svg class="a" style="left:1320.8px;top:1567.0px" width="19" height="19" viewBox="0 0 19 19"><circle cx="9.5" cy="9.5" r="8.6" fill="none" stroke="#c4c4c2" stroke-width="1.5"/><rect x="8.7" y="8" width="1.7" height="6.5" fill="#c4c4c2"/><circle cx="9.5" cy="5.5" r="1.1" fill="#c4c4c2"/></svg>
<svg class="a" style="left:1375.6px;top:1565.5px" width="23" height="23" viewBox="0 0 23 23"><circle cx="11.5" cy="11.5" r="10.3" fill="none" stroke="#858480" stroke-width="1.9"/><path d="M7 9.5 H16 L11.5 15 Z" fill="#858480"/></svg>
<div class="a" style="left:1411.5px;top:1565.4px;font-size:22.5px;color:#858480;"><span class="k" style="font-size:0.96em;letter-spacing:-0.11em">현업체</span></div>
<svg class="a" style="left:1539.8px;top:1565.5px" width="23" height="23" viewBox="0 0 23 23"><circle cx="11.5" cy="11.5" r="10.3" fill="none" stroke="#858480" stroke-width="1.9"/><path d="M7 9.5 H16 L11.5 15 Z" fill="#858480"/></svg>
<div class="a" style="left:1573.9px;top:1565.4px;font-size:22.5px;color:#858480;"><span class="k" style="font-size:0.96em;letter-spacing:-0.11em">선정업체</span></div>
<svg class="a" style="left:1703.0px;top:1565.0px" width="21.5" height="21.5" viewBox="0 0 21.5 21.5"><rect x="1" y="1" width="19.5" height="19.5" rx="3.5" fill="none" stroke="#858480" stroke-width="1.8"/><path d="M1 5 Q1 1 4.5 1 H17 Q20.5 1 20.5 5 V6 H1 Z" fill="#858480"/><circle cx="8.5" cy="9" r="0.9" fill="#858480"/><circle cx="12" cy="9" r="0.9" fill="#858480"/><circle cx="15.5" cy="9" r="0.9" fill="#858480"/><circle cx="5" cy="12.5" r="0.9" fill="#858480"/><circle cx="8.5" cy="12.5" r="0.9" fill="#858480"/><circle cx="12" cy="12.5" r="0.9" fill="#858480"/><circle cx="15.5" cy="12.5" r="0.9" fill="#858480"/><circle cx="5" cy="16" r="0.9" fill="#858480"/><circle cx="8.5" cy="16" r="0.9" fill="#858480"/><circle cx="12" cy="16" r="0.9" fill="#858480"/></svg>
<div class="a" style="left:1737.1px;top:1565.4px;font-size:22.5px;color:#858480;"><span class="k" style="font-size:0.96em;letter-spacing:-0.11em">계약만기</span></div>
<svg class="a" style="left:1863.0px;top:1566.0px" width="22" height="22" viewBox="0 0 22 22"><circle cx="9" cy="9" r="7.5" fill="none" stroke="#858480" stroke-width="2"/><path d="M14.5 14.5 L21 21" stroke="#858480" stroke-width="2.4"/></svg>
<div class="a" style="left:1898.2px;top:1565.6px;font-size:22.5px;color:#858480;letter-spacing:0.3px;">TM</div>
<div class="a" style="left:1932.1px;top:1565.4px;font-size:22.5px;color:#858480;"><span class="k" style="font-size:0.96em;letter-spacing:-0.11em">날짜</span></div>
<svg class="a" style="left:2025.9px;top:1568.0px" width="16" height="17" viewBox="0 0 16 17"><path d="M15 1 H1.5 L8 8.5 L1.5 16 H15" fill="none" stroke="#858480" stroke-width="1.8"/></svg>
<div class="a" style="left:2057.5px;top:1565.4px;font-size:22.5px;color:#858480;"><span class="k" style="font-size:0.96em;letter-spacing:-0.11em">진행</span> <span class="k" style="font-size:0.96em;letter-spacing:-0.11em">현황</span></div>
<svg class="a" style="left:2343.0px;top:1566.0px" width="22" height="22" viewBox="0 0 22 22"><path d="M6 13 L14.5 4.5 C16.5 2.5 19.5 2.5 20.5 4.5 C21.8 6.3 21 8.5 19.5 10 L10 19.5 C7.5 22 3.5 22 2 19.5 C0.5 17.3 1 14.5 3 12.5 L11.5 4" fill="none" stroke="#858480" stroke-width="1.9" stroke-linecap="round"/></svg>
<div class="a" style="left:2377.1px;top:1565.4px;font-size:22.5px;color:#858480;"><span class="k" style="font-size:0.96em;letter-spacing:-0.11em">파일</span></div>
<svg class="a" style="left:2662.0px;top:1565.5px" width="23" height="23" viewBox="0 0 23 23"><circle cx="11.5" cy="11.5" r="10.3" fill="none" stroke="#858480" stroke-width="1.9"/><path d="M7 9.5 H16 L11.5 15 Z" fill="#858480"/></svg>
<div class="a" style="left:2697.7px;top:1565.6px;font-size:22.5px;color:#858480;letter-spacing:0.2px;">IN/OUT</div>
<svg class="a" style="left:2823.4px;top:1566.0px" width="21" height="21" viewBox="0 0 21 21"><path d="M3 1.5 C4.5 0.5 6.5 1 7.2 2.5 L8.6 5.5 C9.1 6.7 8.6 7.9 7.6 8.6 L6.6 9.3 C7.8 12 9.6 13.8 12.2 15 L13 14 C13.7 13 15 12.6 16.2 13.1 L19 14.5 C20.5 15.3 20.8 17.2 19.8 18.5 L18.5 19.8 C17 21 14.5 21 11.5 19.5 C6.5 17 3.5 13.5 1.5 8.5 C0.3 5.5 0.8 3.2 3 1.5 Z" fill="#858480"/></svg>
<div class="a" style="left:2857.1px;top:1565.4px;font-size:22.5px;color:#858480;"><span class="k" style="font-size:0.96em;letter-spacing:-0.11em">전화번호</span></div>
<div class="a" style="left:150.0px;top:1600.0px;width:3533.0px;height:2.0px;background:#e6e6e4;"></div>
<div class="a" style="left:261.0px;top:1601.5px;width:1.0px;height:508.5px;background:#e5e5e3;"></div>
<div class="a" style="left:530.0px;top:1601.5px;width:1.0px;height:508.5px;background:#e5e5e3;"></div>
<div class="a" style="left:721.0px;top:1601.5px;width:1.0px;height:508.5px;background:#e5e5e3;"></div>
<div class="a" style="left:881.0px;top:1601.5px;width:1.0px;height:508.5px;background:#e5e5e3;"></div>
<div class="a" style="left:1041.0px;top:1601.5px;width:1.0px;height:508.5px;background:#e5e5e3;"></div>
<div class="a" style="left:1201.0px;top:1601.5px;width:1.0px;height:508.5px;background:#e5e5e3;"></div>
<div class="a" style="left:1361.0px;top:1601.5px;width:1.0px;height:508.5px;background:#e5e5e3;"></div>
<div class="a" style="left:1524.0px;top:1601.5px;width:1.0px;height:508.5px;background:#e5e5e3;"></div>
<div class="a" style="left:1687.0px;top:1601.5px;width:1.0px;height:508.5px;background:#e5e5e3;"></div>
<div class="a" style="left:1847.0px;top:1601.5px;width:1.0px;height:508.5px;background:#e5e5e3;"></div>
<div class="a" style="left:2006.0px;top:1601.5px;width:1.0px;height:508.5px;background:#e5e5e3;"></div>
<div class="a" style="left:2327.0px;top:1601.5px;width:1.0px;height:508.5px;background:#e5e5e3;"></div>
<div class="a" style="left:2646.0px;top:1601.5px;width:1.0px;height:508.5px;background:#e5e5e3;"></div>
<div class="a" style="left:2807.0px;top:1601.5px;width:1.0px;height:508.5px;background:#e5e5e3;"></div>
<div class="a" style="left:3009.0px;top:1601.5px;width:1.0px;height:508.5px;background:#e5e5e3;"></div>
<div class="a" style="left:150.0px;top:1653.0px;width:3533.0px;height:1.0px;background:#e3e3e1;"></div>
<div class="a" style="left:150.0px;top:1705.0px;width:3533.0px;height:1.0px;background:#e3e3e1;"></div>
<div class="a" style="left:150.0px;top:1758.0px;width:3533.0px;height:1.0px;background:#e3e3e1;"></div>
<div class="a" style="left:150.0px;top:1810.0px;width:3533.0px;height:1.0px;background:#e3e3e1;"></div>
<div class="a" style="left:150.0px;top:1862.0px;width:3533.0px;height:1.0px;background:#e3e3e1;"></div>
<div class="a" style="left:150.0px;top:1914.0px;width:3533.0px;height:1.0px;background:#e3e3e1;"></div>
<div class="a" style="left:150.0px;top:1966.0px;width:3533.0px;height:1.0px;background:#e3e3e1;"></div>
<div class="a" style="left:150.0px;top:2019.0px;width:3533.0px;height:1.0px;background:#e3e3e1;"></div>
<div class="a" style="left:150.0px;top:2071.0px;width:3533.0px;height:1.0px;background:#e3e3e1;"></div>
<div class="a" style="left:162.8px;top:1616.8px;font-size:23px;color:#a5a5a2;letter-spacing:0.75px;">FTM-3</div>
<div class="a" style="left:274.1px;top:1616.3px;font-size:23px;color:#37352f;"><span class="k" style="font-size:0.96em;letter-spacing:-0.115em">다온이앤씨</span></div>
<div class="a" style="left:275.1px;top:1640.0px;width:100.0px;height:1.5px;background:#e3e3e1;"></div>
<svg class="a" style="left:547.6px;top:1614.0px" width="21" height="27" viewBox="0 0 21 27"><path d="M4.5 1 H13 L20 8.5 V22.5 C20 24.5 18.8 25.8 16.8 25.8 H4.2 C2.2 25.8 1 24.5 1 22.5 V4.5 C1 2.2 2.2 1 4.5 1 Z M12.5 1.2 V6.5 C12.5 7.6 13.2 8.6 14.5 8.6 H19.8" fill="none" stroke="#8b8a86" stroke-width="1.9"/><path d="M5.5 14.5 H15.5 M5.5 18.5 H15.5" stroke="#8b8a86" stroke-width="1.7"/></svg>
<div class="a" style="left:581.0px;top:1616.3px;font-size:23px;color:#37352f;"><span class="k" style="font-size:0.96em;letter-spacing:-0.115em">개발</span>3<span class="k" style="font-size:0.96em;letter-spacing:-0.115em">팀</span></div>
<div class="a" style="left:582.0px;top:1640.0px;width:75.1px;height:1.5px;background:#e3e3e1;"></div>
<div class="a" style="left:733.0px;top:1616.3px;font-size:23px;color:#37352f;"><span class="k" style="font-size:0.96em;letter-spacing:-0.115em">김하윤</span></div>
<div class="a" style="left:894.4px;top:1611.2px;width:77.7px;height:31.3px;background:#f5e0e9;border-radius:5px"></div>
<div class="a" style="left:903.1px;top:1616.0px;font-size:21.5px;color:#4c2337;"><span class="k" style="font-size:0.96em;letter-spacing:-0.085em">골프장</span></div>
<div class="a" style="left:1054.3px;top:1611.2px;width:58.3px;height:31.3px;background:#e3e2e0;border-radius:5px"></div>
<div class="a" style="left:1063.0px;top:1616.0px;font-size:21.5px;color:#32302c;"><span class="k" style="font-size:0.96em;letter-spacing:-0.085em">경기</span></div>
<div class="a" style="right:2491.2px;top:1616.8px;font-size:23px;color:#37352f;letter-spacing:1.0px;">2,500</div>
<div class="a" style="left:1374.6px;top:1611.2px;width:45.5px;height:31.3px;background:#efefed;border-radius:5px"></div>
<div class="a" style="left:1383.5px;top:1617.9px;font-size:21.5px;color:#37352f;letter-spacing:1.2px;">CJ</div>
<div class="a" style="left:1700.5px;top:1616.8px;font-size:23px;color:#37352f;letter-spacing:1.0px;">2024/12/02</div>
<div class="a" style="left:2341.2px;top:1608.2px;width:191.8px;height:38.4px;background:#e6e6e4;border-radius:6px"></div>
<div class="a" style="left:2349.3px;top:1617.3px;font-size:20px;color:#37352f;letter-spacing:0.4px;"><span class="k" style="font-size:0.96em;letter-spacing:-0.1em">회사소개서</span>(20241...</div>
<div class="a" style="left:162.8px;top:1669.0px;font-size:23px;color:#a5a5a2;letter-spacing:0.75px;">FTM-2</div>
<div class="a" style="left:274.1px;top:1668.5px;font-size:23px;color:#37352f;"><span class="k" style="font-size:0.96em;letter-spacing:-0.115em">한빛월드</span></div>
<div class="a" style="left:275.1px;top:1692.0px;width:80.8px;height:1.5px;background:#e3e3e1;"></div>
<svg class="a" style="left:547.6px;top:1666.2px" width="21" height="27" viewBox="0 0 21 27"><path d="M4.5 1 H13 L20 8.5 V22.5 C20 24.5 18.8 25.8 16.8 25.8 H4.2 C2.2 25.8 1 24.5 1 22.5 V4.5 C1 2.2 2.2 1 4.5 1 Z M12.5 1.2 V6.5 C12.5 7.6 13.2 8.6 14.5 8.6 H19.8" fill="none" stroke="#8b8a86" stroke-width="1.9"/><path d="M5.5 14.5 H15.5 M5.5 18.5 H15.5" stroke="#8b8a86" stroke-width="1.7"/></svg>
<div class="a" style="left:581.0px;top:1668.5px;font-size:23px;color:#37352f;"><span class="k" style="font-size:0.96em;letter-spacing:-0.115em">개발</span>3<span class="k" style="font-size:0.96em;letter-spacing:-0.115em">팀</span></div>
<div class="a" style="left:582.0px;top:1692.0px;width:75.1px;height:1.5px;background:#e3e3e1;"></div>
<div class="a" style="left:733.0px;top:1668.5px;font-size:23px;color:#37352f;"><span class="k" style="font-size:0.96em;letter-spacing:-0.115em">이서준</span></div>
<div class="a" style="left:894.4px;top:1663.4px;width:77.7px;height:31.3px;background:#d3e5ef;border-radius:5px"></div>
<div class="a" style="left:903.1px;top:1668.2px;font-size:21.5px;color:#183347;"><span class="k" style="font-size:0.96em;letter-spacing:-0.085em">컨세션</span></div>
<div class="a" style="left:1054.3px;top:1663.4px;width:58.3px;height:31.3px;background:#d3e5ef;border-radius:5px"></div>
<div class="a" style="left:1063.0px;top:1668.2px;font-size:21.5px;color:#183347;"><span class="k" style="font-size:0.96em;letter-spacing:-0.085em">서울</span></div>
<div class="a" style="left:1700.5px;top:1669.0px;font-size:23px;color:#37352f;letter-spacing:1.0px;">2024/12/03</div>
<div class="a" style="left:162.8px;top:1721.2px;font-size:23px;color:#a5a5a2;letter-spacing:0.75px;">FTM-9</div>
<svg class="a" style="left:278.0px;top:1721.4px" width="23" height="23" viewBox="0 0 23 23"><g transform="rotate(0 11.5 11.5)"><path d="M11.5 0.5 V22.5" stroke="#4b4a46" stroke-width="2.2"/><path d="M8 1.5 L11.5 5 L15 1.5 M8 21.5 L11.5 18 L15 21.5" fill="none" stroke="#4b4a46" stroke-width="1.9"/></g><g transform="rotate(60 11.5 11.5)"><path d="M11.5 0.5 V22.5" stroke="#4b4a46" stroke-width="2.2"/><path d="M8 1.5 L11.5 5 L15 1.5 M8 21.5 L11.5 18 L15 21.5" fill="none" stroke="#4b4a46" stroke-width="1.9"/></g><g transform="rotate(120 11.5 11.5)"><path d="M11.5 0.5 V22.5" stroke="#4b4a46" stroke-width="2.2"/><path d="M8 1.5 L11.5 5 L15 1.5 M8 21.5 L11.5 18 L15 21.5" fill="none" stroke="#4b4a46" stroke-width="1.9"/></g></svg>
<div class="a" style="left:310.8px;top:1720.7px;font-size:23px;color:#37352f;"><span class="k" style="font-size:0.96em;letter-spacing:-0.115em">제일엔지니어링</span></div>
<div class="a" style="left:311.8px;top:1744.0px;width:138.4px;height:1.5px;background:#e3e3e1;"></div>
<svg class="a" style="left:547.6px;top:1718.4px" width="21" height="27" viewBox="0 0 21 27"><path d="M4.5 1 H13 L20 8.5 V22.5 C20 24.5 18.8 25.8 16.8 25.8 H4.2 C2.2 25.8 1 24.5 1 22.5 V4.5 C1 2.2 2.2 1 4.5 1 Z M12.5 1.2 V6.5 C12.5 7.6 13.2 8.6 14.5 8.6 H19.8" fill="none" stroke="#8b8a86" stroke-width="1.9"/><path d="M5.5 14.5 H15.5 M5.5 18.5 H15.5" stroke="#8b8a86" stroke-width="1.7"/></svg>
<div class="a" style="left:581.0px;top:1720.7px;font-size:23px;color:#37352f;"><span class="k" style="font-size:0.96em;letter-spacing:-0.115em">서부개발팀</span></div>
<div class="a" style="left:582.0px;top:1744.0px;width:100.0px;height:1.5px;background:#e3e3e1;"></div>
<div class="a" style="left:733.0px;top:1720.7px;font-size:23px;color:#37352f;"><span class="k" style="font-size:0.96em;letter-spacing:-0.115em">박지우</span></div>
<div class="a" style="left:894.4px;top:1715.6px;width:58.3px;height:31.3px;background:#ffe2dd;border-radius:5px"></div>
<div class="a" style="left:903.1px;top:1720.4px;font-size:21.5px;color:#5d1715;"><span class="k" style="font-size:0.96em;letter-spacing:-0.085em">공장</span></div>
<div class="a" style="left:1054.3px;top:1715.6px;width:58.3px;height:31.3px;background:#e3e2e0;border-radius:5px"></div>
<div class="a" style="left:1063.0px;top:1720.4px;font-size:21.5px;color:#32302c;"><span class="k" style="font-size:0.96em;letter-spacing:-0.085em">충북</span></div>
<div class="a" style="right:2491.2px;top:1721.2px;font-size:23px;color:#37352f;letter-spacing:1.0px;">350</div>
<div class="a" style="left:1700.5px;top:1721.2px;font-size:23px;color:#37352f;letter-spacing:1.0px;">2024/12/03</div>
<div class="a" style="left:1859.9px;top:1721.2px;font-size:23px;color:#37352f;letter-spacing:1.0px;">2024/12/14</div>
<div class="a" style="left:2007px;top:1705.9px;width:320px;height:52.2px;overflow:hidden">
<div class="a" style="left:11.6px;top:14.8px;font-size:23px;color:#37352f;"><span class="k" style="font-size:0.96em;letter-spacing:-0.115em">세번째</span> <span class="k" style="font-size:0.96em;letter-spacing:-0.115em">할</span> <span class="k" style="font-size:0.96em;letter-spacing:-0.115em">일</span></div>
</div>
<div class="a" style="left:162.8px;top:1773.4px;font-size:23px;color:#a5a5a2;letter-spacing:0.75px;">FTM-15</div>
<div class="a" style="left:274.1px;top:1772.9px;font-size:23px;color:#37352f;"><span class="k" style="font-size:0.96em;letter-spacing:-0.115em">삼우케미칼</span></div>
<div class="a" style="left:275.1px;top:1796.0px;width:100.0px;height:1.5px;background:#e3e3e1;"></div>
<svg class="a" style="left:547.6px;top:1770.6px" width="21" height="27" viewBox="0 0 21 27"><path d="M4.5 1 H13 L20 8.5 V22.5 C20 24.5 18.8 25.8 16.8 25.8 H4.2 C2.2 25.8 1 24.5 1 22.5 V4.5 C1 2.2 2.2 1 4.5 1 Z M12.5 1.2 V6.5 C12.5 7.6 13.2 8.6 14.5 8.6 H19.8" fill="none" stroke="#8b8a86" stroke-width="1.9"/><path d="M5.5 14.5 H15.5 M5.5 18.5 H15.5" stroke="#8b8a86" stroke-width="1.7"/></svg>
<div class="a" style="left:581.0px;top:1772.9px;font-size:23px;color:#37352f;"><span class="k" style="font-size:0.96em;letter-spacing:-0.115em">서부개발팀</span></div>
<div class="a" style="left:582.0px;top:1796.0px;width:100.0px;height:1.5px;background:#e3e3e1;"></div>
<div class="a" style="left:733.0px;top:1772.9px;font-size:23px;color:#37352f;"><span class="k" style="font-size:0.96em;letter-spacing:-0.115em">최민재</span></div>
<div class="a" style="left:894.4px;top:1767.8px;width:58.3px;height:31.3px;background:#ffe2dd;border-radius:5px"></div>
<div class="a" style="left:903.1px;top:1772.6px;font-size:21.5px;color:#5d1715;"><span class="k" style="font-size:0.96em;letter-spacing:-0.085em">공장</span></div>
<div class="a" style="left:1054.3px;top:1767.8px;width:58.3px;height:31.3px;background:#e8deee;border-radius:5px"></div>
<div class="a" style="left:1063.0px;top:1772.6px;font-size:21.5px;color:#412454;"><span class="k" style="font-size:0.96em;letter-spacing:-0.085em">전남</span></div>
<div class="a" style="right:2491.2px;top:1773.4px;font-size:23px;color:#37352f;letter-spacing:1.0px;">450</div>
<div class="a" style="left:1374.6px;top:1767.8px;width:77.7px;height:31.3px;background:#eee0da;border-radius:5px"></div>
<div class="a" style="left:1383.3px;top:1772.6px;font-size:21.5px;color:#442a1e;"><span class="k" style="font-size:0.96em;letter-spacing:-0.085em">아워홈</span></div>
<div class="a" style="left:1700.5px;top:1773.4px;font-size:23px;color:#37352f;letter-spacing:1.0px;">2024/12/04</div>
<div class="a" style="left:2341.2px;top:1764.8px;width:191.8px;height:38.4px;background:#e6e6e4;border-radius:6px"></div>
<div class="a" style="left:2349.3px;top:1773.9px;font-size:20px;color:#37352f;letter-spacing:0.4px;"><span class="k" style="font-size:0.96em;letter-spacing:-0.1em">회사소개서</span>(20241...</div>
<div class="a" style="left:162.8px;top:1825.6px;font-size:23px;color:#a5a5a2;letter-spacing:0.75px;">FTM-18</div>
<div class="a" style="left:274.1px;top:1825.1px;font-size:23px;color:#37352f;"><span class="k" style="font-size:0.96em;letter-spacing:-0.115em">미래교육연수원</span></div>
<div class="a" style="left:275.1px;top:1848.0px;width:138.4px;height:1.5px;background:#e3e3e1;"></div>
<svg class="a" style="left:547.6px;top:1822.8px" width="21" height="27" viewBox="0 0 21 27"><path d="M4.5 1 H13 L20 8.5 V22.5 C20 24.5 18.8 25.8 16.8 25.8 H4.2 C2.2 25.8 1 24.5 1 22.5 V4.5 C1 2.2 2.2 1 4.5 1 Z M12.5 1.2 V6.5 C12.5 7.6 13.2 8.6 14.5 8.6 H19.8" fill="none" stroke="#8b8a86" stroke-width="1.9"/><path d="M5.5 14.5 H15.5 M5.5 18.5 H15.5" stroke="#8b8a86" stroke-width="1.7"/></svg>
<div class="a" style="left:581.0px;top:1825.1px;font-size:23px;color:#37352f;"><span class="k" style="font-size:0.96em;letter-spacing:-0.115em">서부개발팀</span></div>
<div class="a" style="left:582.0px;top:1848.0px;width:100.0px;height:1.5px;background:#e3e3e1;"></div>
<div class="a" style="left:733.0px;top:1825.1px;font-size:23px;color:#37352f;"><span class="k" style="font-size:0.96em;letter-spacing:-0.115em">정예린</span></div>
<div class="a" style="left:894.4px;top:1820.0px;width:77.7px;height:31.3px;background:#efefed;border-radius:5px"></div>
<div class="a" style="left:903.1px;top:1824.8px;font-size:21.5px;color:#37352f;"><span class="k" style="font-size:0.96em;letter-spacing:-0.085em">연수원</span></div>
<div class="a" style="left:1054.3px;top:1820.0px;width:58.3px;height:31.3px;background:#ffe2dd;border-radius:5px"></div>
<div class="a" style="left:1063.0px;top:1824.8px;font-size:21.5px;color:#5d1715;"><span class="k" style="font-size:0.96em;letter-spacing:-0.085em">충남</span></div>
<div class="a" style="right:2491.2px;top:1825.6px;font-size:23px;color:#37352f;letter-spacing:1.0px;">700</div>
<div class="a" style="left:1374.6px;top:1820.0px;width:77.7px;height:31.3px;background:#eee0da;border-radius:5px"></div>
<div class="a" style="left:1383.3px;top:1824.8px;font-size:21.5px;color:#442a1e;"><span class="k" style="font-size:0.96em;letter-spacing:-0.085em">아워홈</span></div>
<div class="a" style="left:1700.5px;top:1825.6px;font-size:23px;color:#37352f;letter-spacing:1.0px;">2024/12/04</div>
<div class="a" style="left:2341.2px;top:1817.0px;width:191.8px;height:38.4px;background:#e6e6e4;border-radius:6px"></div>
<div class="a" style="left:2349.3px;top:1826.1px;font-size:20px;color:#37352f;letter-spacing:0.4px;"><span class="k" style="font-size:0.96em;letter-spacing:-0.1em">회사소개서</span>(20241...</div>
<div class="a" style="left:162.8px;top:1877.8px;font-size:23px;color:#a5a5a2;letter-spacing:0.75px;">FTM-14</div>
<div class="a" style="left:274.1px;top:1877.3px;font-size:23px;color:#37352f;"><span class="k" style="font-size:0.96em;letter-spacing:-0.115em">국립세종병원</span></div>
<div class="a" style="left:275.1px;top:1900.0px;width:119.2px;height:1.5px;background:#e3e3e1;"></div>
<svg class="a" style="left:547.6px;top:1875.0px" width="21" height="27" viewBox="0 0 21 27"><path d="M4.5 1 H13 L20 8.5 V22.5 C20 24.5 18.8 25.8 16.8 25.8 H4.2 C2.2 25.8 1 24.5 1 22.5 V4.5 C1 2.2 2.2 1 4.5 1 Z M12.5 1.2 V6.5 C12.5 7.6 13.2 8.6 14.5 8.6 H19.8" fill="none" stroke="#8b8a86" stroke-width="1.9"/><path d="M5.5 14.5 H15.5 M5.5 18.5 H15.5" stroke="#8b8a86" stroke-width="1.7"/></svg>
<div class="a" style="left:581.0px;top:1877.3px;font-size:23px;color:#37352f;"><span class="k" style="font-size:0.96em;letter-spacing:-0.115em">서부개발팀</span></div>
<div class="a" style="left:582.0px;top:1900.0px;width:100.0px;height:1.5px;background:#e3e3e1;"></div>
<div class="a" style="left:733.0px;top:1877.3px;font-size:23px;color:#37352f;"><span class="k" style="font-size:0.96em;letter-spacing:-0.115em">유도현</span></div>
<div class="a" style="left:894.4px;top:1872.2px;width:58.3px;height:31.3px;background:#ffe2dd;border-radius:5px"></div>
<div class="a" style="left:903.1px;top:1877.0px;font-size:21.5px;color:#5d1715;"><span class="k" style="font-size:0.96em;letter-spacing:-0.085em">공장</span></div>
<div class="a" style="left:1054.3px;top:1872.2px;width:58.3px;height:31.3px;background:#efefed;border-radius:5px"></div>
<div class="a" style="left:1063.0px;top:1877.0px;font-size:21.5px;color:#37352f;"><span class="k" style="font-size:0.96em;letter-spacing:-0.085em">광주</span></div>
<div class="a" style="right:2491.2px;top:1877.8px;font-size:23px;color:#37352f;letter-spacing:1.0px;">3,800</div>
<div class="a" style="left:1374.6px;top:1872.2px;width:116.5px;height:31.3px;background:#f5e0e9;border-radius:5px"></div>
<div class="a" style="left:1383.3px;top:1877.0px;font-size:21.5px;color:#4c2337;"><span class="k" style="font-size:0.96em;letter-spacing:-0.085em">신세계푸드</span></div>
<div class="a" style="left:1700.5px;top:1877.8px;font-size:23px;color:#37352f;letter-spacing:1.0px;">2024/12/05</div>
<div class="a" style="left:162.8px;top:1930.0px;font-size:23px;color:#a5a5a2;letter-spacing:0.75px;">FTM-13</div>
<div class="a" style="left:274.1px;top:1929.5px;font-size:23px;color:#37352f;"><span class="k" style="font-size:0.96em;letter-spacing:-0.115em">서울중앙의료원</span></div>
<div class="a" style="left:275.1px;top:1953.0px;width:138.4px;height:1.5px;background:#e3e3e1;"></div>
<svg class="a" style="left:547.6px;top:1927.2px" width="21" height="27" viewBox="0 0 21 27"><path d="M4.5 1 H13 L20 8.5 V22.5 C20 24.5 18.8 25.8 16.8 25.8 H4.2 C2.2 25.8 1 24.5 1 22.5 V4.5 C1 2.2 2.2 1 4.5 1 Z M12.5 1.2 V6.5 C12.5 7.6 13.2 8.6 14.5 8.6 H19.8" fill="none" stroke="#8b8a86" stroke-width="1.9"/><path d="M5.5 14.5 H15.5 M5.5 18.5 H15.5" stroke="#8b8a86" stroke-width="1.7"/></svg>
<div class="a" style="left:581.0px;top:1929.5px;font-size:23px;color:#37352f;"><span class="k" style="font-size:0.96em;letter-spacing:-0.115em">서부개발팀</span></div>
<div class="a" style="left:582.0px;top:1953.0px;width:100.0px;height:1.5px;background:#e3e3e1;"></div>
<div class="a" style="left:733.0px;top:1929.5px;font-size:23px;color:#37352f;"><span class="k" style="font-size:0.96em;letter-spacing:-0.115em">장하늘</span></div>
<div class="a" style="left:894.4px;top:1924.4px;width:58.3px;height:31.3px;background:#e8deee;border-radius:5px"></div>
<div class="a" style="left:903.1px;top:1929.2px;font-size:21.5px;color:#412454;"><span class="k" style="font-size:0.96em;letter-spacing:-0.085em">병원</span></div>
<div class="a" style="left:1054.3px;top:1924.4px;width:58.3px;height:31.3px;background:#e8deee;border-radius:5px"></div>
<div class="a" style="left:1063.0px;top:1929.2px;font-size:21.5px;color:#412454;"><span class="k" style="font-size:0.96em;letter-spacing:-0.085em">전남</span></div>
<div class="a" style="right:2491.2px;top:1930.0px;font-size:23px;color:#37352f;letter-spacing:1.0px;">240</div>
<div class="a" style="left:1374.6px;top:1924.4px;width:135.9px;height:31.3px;background:#ffe2dd;border-radius:5px"></div>
<div class="a" style="left:1383.3px;top:1929.2px;font-size:21.5px;color:#5d1715;"><span class="k" style="font-size:0.96em;letter-spacing:-0.085em">현대그린푸드</span></div>
<div class="a" style="left:1700.5px;top:1930.0px;font-size:23px;color:#37352f;letter-spacing:1.0px;">2024/12/05</div>
<div class="a" style="left:2341.2px;top:1921.4px;width:191.8px;height:38.4px;background:#e6e6e4;border-radius:6px"></div>
<div class="a" style="left:2349.3px;top:1930.5px;font-size:20px;color:#37352f;letter-spacing:0.4px;"><span class="k" style="font-size:0.96em;letter-spacing:-0.1em">회사소개서</span>(20241...</div>
<div class="a" style="left:162.8px;top:1982.2px;font-size:23px;color:#a5a5a2;letter-spacing:0.75px;">FTM-4</div>
<svg class="a" style="left:278.0px;top:1982.4px" width="23" height="23" viewBox="0 0 23 23"><g transform="rotate(0 11.5 11.5)"><path d="M11.5 0.5 V22.5" stroke="#4b4a46" stroke-width="2.2"/><path d="M8 1.5 L11.5 5 L15 1.5 M8 21.5 L11.5 18 L15 21.5" fill="none" stroke="#4b4a46" stroke-width="1.9"/></g><g transform="rotate(60 11.5 11.5)"><path d="M11.5 0.5 V22.5" stroke="#4b4a46" stroke-width="2.2"/><path d="M8 1.5 L11.5 5 L15 1.5 M8 21.5 L11.5 18 L15 21.5" fill="none" stroke="#4b4a46" stroke-width="1.9"/></g><g transform="rotate(120 11.5 11.5)"><path d="M11.5 0.5 V22.5" stroke="#4b4a46" stroke-width="2.2"/><path d="M8 1.5 L11.5 5 L15 1.5 M8 21.5 L11.5 18 L15 21.5" fill="none" stroke="#4b4a46" stroke-width="1.9"/></g></svg>
<div class="a" style="left:310.8px;top:1981.7px;font-size:23px;color:#37352f;"><span class="k" style="font-size:0.96em;letter-spacing:-0.115em">동서대학교</span> <span class="k" style="font-size:0.96em;letter-spacing:-0.115em">부속병원</span></div>
<div class="a" style="left:311.8px;top:2005.0px;width:182.8px;height:1.5px;background:#e3e3e1;"></div>
<svg class="a" style="left:547.6px;top:1979.4px" width="21" height="27" viewBox="0 0 21 27"><path d="M4.5 1 H13 L20 8.5 V22.5 C20 24.5 18.8 25.8 16.8 25.8 H4.2 C2.2 25.8 1 24.5 1 22.5 V4.5 C1 2.2 2.2 1 4.5 1 Z M12.5 1.2 V6.5 C12.5 7.6 13.2 8.6 14.5 8.6 H19.8" fill="none" stroke="#8b8a86" stroke-width="1.9"/><path d="M5.5 14.5 H15.5 M5.5 18.5 H15.5" stroke="#8b8a86" stroke-width="1.7"/></svg>
<div class="a" style="left:581.0px;top:1981.7px;font-size:23px;color:#37352f;"><span class="k" style="font-size:0.96em;letter-spacing:-0.115em">개발</span>3<span class="k" style="font-size:0.96em;letter-spacing:-0.115em">팀</span></div>
<div class="a" style="left:582.0px;top:2005.0px;width:75.1px;height:1.5px;background:#e3e3e1;"></div>
<div class="a" style="left:733.0px;top:1981.7px;font-size:23px;color:#37352f;"><span class="k" style="font-size:0.96em;letter-spacing:-0.115em">홍지민</span></div>
<div class="a" style="left:894.4px;top:1976.6px;width:77.7px;height:31.3px;background:#d3e5ef;border-radius:5px"></div>
<div class="a" style="left:903.1px;top:1981.4px;font-size:21.5px;color:#183347;"><span class="k" style="font-size:0.96em;letter-spacing:-0.085em">컨세션</span></div>
<div class="a" style="left:1054.3px;top:1976.6px;width:58.3px;height:31.3px;background:#d3e5ef;border-radius:5px"></div>
<div class="a" style="left:1063.0px;top:1981.4px;font-size:21.5px;color:#183347;"><span class="k" style="font-size:0.96em;letter-spacing:-0.085em">서울</span></div>
<div class="a" style="right:2491.2px;top:1982.2px;font-size:23px;color:#37352f;letter-spacing:1.0px;">3,700</div>
<div class="a" style="left:1374.6px;top:1976.6px;width:116.5px;height:31.3px;background:#f5e0e9;border-radius:5px"></div>
<div class="a" style="left:1383.3px;top:1981.4px;font-size:21.5px;color:#4c2337;"><span class="k" style="font-size:0.96em;letter-spacing:-0.085em">신세계푸드</span></div>
<div class="a" style="left:1700.5px;top:1982.2px;font-size:23px;color:#37352f;letter-spacing:1.0px;">2024/12/06</div>
<div class="a" style="left:1859.9px;top:1982.2px;font-size:23px;color:#37352f;letter-spacing:1.0px;">2024/12/23</div>
<div class="a" style="left:2007px;top:1966.9px;width:320px;height:52.2px;overflow:hidden">
<div class="a" style="left:11.6px;top:14.8px;font-size:23px;color:#37352f;"><span class="k" style="font-size:0.96em;letter-spacing:-0.115em">신세계</span> <span class="k" style="font-size:0.96em;letter-spacing:-0.115em">관련</span> <span class="k" style="font-size:0.96em;letter-spacing:-0.115em">재계약</span> <span class="k" style="font-size:0.96em;letter-spacing:-0.115em">또는</span> <span class="k" style="font-size:0.96em;letter-spacing:-0.115em">입찰</span> <span class="k" style="font-size:0.96em;letter-spacing:-0.115em">여부</span></div>
</div>
<div class="a" style="left:2341.2px;top:1973.6px;width:191.8px;height:38.4px;background:#e6e6e4;border-radius:6px"></div>
<div class="a" style="left:2349.3px;top:1982.7px;font-size:20px;color:#37352f;letter-spacing:0.4px;"><span class="k" style="font-size:0.96em;letter-spacing:-0.1em">회사소개서</span>(20241...</div>
<div class="a" style="left:162.8px;top:2034.4px;font-size:23px;color:#a5a5a2;letter-spacing:0.75px;">FTM-5</div>
<svg class="a" style="left:278.0px;top:2034.6px" width="23" height="23" viewBox="0 0 23 23"><g transform="rotate(0 11.5 11.5)"><path d="M11.5 0.5 V22.5" stroke="#4b4a46" stroke-width="2.2"/><path d="M8 1.5 L11.5 5 L15 1.5 M8 21.5 L11.5 18 L15 21.5" fill="none" stroke="#4b4a46" stroke-width="1.9"/></g><g transform="rotate(60 11.5 11.5)"><path d="M11.5 0.5 V22.5" stroke="#4b4a46" stroke-width="2.2"/><path d="M8 1.5 L11.5 5 L15 1.5 M8 21.5 L11.5 18 L15 21.5" fill="none" stroke="#4b4a46" stroke-width="1.9"/></g><g transform="rotate(120 11.5 11.5)"><path d="M11.5 0.5 V22.5" stroke="#4b4a46" stroke-width="2.2"/><path d="M8 1.5 L11.5 5 L15 1.5 M8 21.5 L11.5 18 L15 21.5" fill="none" stroke="#4b4a46" stroke-width="1.9"/></g></svg>
<div class="a" style="left:310.8px;top:2033.9px;font-size:23px;color:#37352f;"><span class="k" style="font-size:0.96em;letter-spacing:-0.115em">해양안전교육원</span></div>
<div class="a" style="left:311.8px;top:2057.0px;width:138.4px;height:1.5px;background:#e3e3e1;"></div>
<svg class="a" style="left:547.6px;top:2031.6px" width="21" height="27" viewBox="0 0 21 27"><path d="M4.5 1 H13 L20 8.5 V22.5 C20 24.5 18.8 25.8 16.8 25.8 H4.2 C2.2 25.8 1 24.5 1 22.5 V4.5 C1 2.2 2.2 1 4.5 1 Z M12.5 1.2 V6.5 C12.5 7.6 13.2 8.6 14.5 8.6 H19.8" fill="none" stroke="#8b8a86" stroke-width="1.9"/><path d="M5.5 14.5 H15.5 M5.5 18.5 H15.5" stroke="#8b8a86" stroke-width="1.7"/></svg>
<div class="a" style="left:581.0px;top:2033.9px;font-size:23px;color:#37352f;"><span class="k" style="font-size:0.96em;letter-spacing:-0.115em">개발</span>3<span class="k" style="font-size:0.96em;letter-spacing:-0.115em">팀</span></div>
<div class="a" style="left:582.0px;top:2057.0px;width:75.1px;height:1.5px;background:#e3e3e1;"></div>
<div class="a" style="left:733.0px;top:2033.9px;font-size:23px;color:#37352f;"><span class="k" style="font-size:0.96em;letter-spacing:-0.115em">윤시우</span></div>
<div class="a" style="left:894.4px;top:2028.8px;width:97.1px;height:31.3px;background:#dbeddb;border-radius:5px"></div>
<div class="a" style="left:903.1px;top:2033.6px;font-size:21.5px;color:#1c3829;"><span class="k" style="font-size:0.96em;letter-spacing:-0.085em">장례식장</span></div>
<div class="a" style="left:1054.3px;top:2028.8px;width:58.3px;height:31.3px;background:#d3e5ef;border-radius:5px"></div>
<div class="a" style="left:1063.0px;top:2033.6px;font-size:21.5px;color:#183347;"><span class="k" style="font-size:0.96em;letter-spacing:-0.085em">서울</span></div>
<div class="a" style="left:1700.5px;top:2034.4px;font-size:23px;color:#37352f;letter-spacing:1.0px;">2024/12/06</div>
<div class="a" style="left:1859.9px;top:2034.4px;font-size:23px;color:#37352f;letter-spacing:1.0px;">2024/12/23</div>
<div class="a" style="left:2007px;top:2019.1px;width:320px;height:52.2px;overflow:hidden">
<div class="a" style="left:11.6px;top:14.8px;font-size:23px;color:#37352f;"><span class="k" style="font-size:0.96em;letter-spacing:-0.115em">재계약</span> <span class="k" style="font-size:0.96em;letter-spacing:-0.115em">건</span> <span class="k" style="font-size:0.96em;letter-spacing:-0.115em">진행</span> <span class="k" style="font-size:0.96em;letter-spacing:-0.115em">상황</span> <span class="k" style="font-size:0.96em;letter-spacing:-0.115em">확인</span> <span class="k" style="font-size:0.96em;letter-spacing:-0.115em">및</span> <span class="k" style="font-size:0.96em;letter-spacing:-0.115em">담당자</span></div>
</div>
<div class="a" style="left:162.8px;top:2086.6px;font-size:23px;color:#a5a5a2;letter-spacing:0.75px;">FTM-7</div>
<div class="a" style="left:274.1px;top:2086.1px;font-size:23px;color:#37352f;"><span class="k" style="font-size:0.96em;letter-spacing:-0.115em">해양경찰교육원</span></div>
<div class="a" style="left:275.1px;top:2109.0px;width:138.4px;height:1.5px;background:#e3e3e1;"></div>
<svg class="a" style="left:547.6px;top:2083.8px" width="21" height="27" viewBox="0 0 21 27"><path d="M4.5 1 H13 L20 8.5 V22.5 C20 24.5 18.8 25.8 16.8 25.8 H4.2 C2.2 25.8 1 24.5 1 22.5 V4.5 C1 2.2 2.2 1 4.5 1 Z M12.5 1.2 V6.5 C12.5 7.6 13.2 8.6 14.5 8.6 H19.8" fill="none" stroke="#8b8a86" stroke-width="1.9"/><path d="M5.5 14.5 H15.5 M5.5 18.5 H15.5" stroke="#8b8a86" stroke-width="1.7"/></svg>
<div class="a" style="left:581.0px;top:2086.1px;font-size:23px;color:#37352f;"><span class="k" style="font-size:0.96em;letter-spacing:-0.115em">서부개발팀</span></div>
<div class="a" style="left:582.0px;top:2109.0px;width:100.0px;height:1.5px;background:#e3e3e1;"></div>
<div class="a" style="left:733.0px;top:2086.1px;font-size:23px;color:#37352f;"><span class="k" style="font-size:0.96em;letter-spacing:-0.115em">배수아</span></div>
<div class="a" style="left:894.4px;top:2081.0px;width:77.7px;height:31.3px;background:#efefed;border-radius:5px"></div>
<div class="a" style="left:903.1px;top:2085.8px;font-size:21.5px;color:#37352f;"><span class="k" style="font-size:0.96em;letter-spacing:-0.085em">연수원</span></div>
<div class="a" style="left:1054.3px;top:2081.0px;width:58.3px;height:31.3px;background:#e8deee;border-radius:5px"></div>
<div class="a" style="left:1063.0px;top:2085.8px;font-size:21.5px;color:#412454;"><span class="k" style="font-size:0.96em;letter-spacing:-0.085em">전남</span></div>
<div class="a" style="right:2491.2px;top:2086.6px;font-size:23px;color:#37352f;letter-spacing:1.0px;">800</div>
<div class="a" style="left:1374.6px;top:2081.0px;width:97.1px;height:31.3px;background:#e8deee;border-radius:5px"></div>
<div class="a" style="left:1383.3px;top:2085.8px;font-size:21.5px;color:#412454;"><span class="k" style="font-size:0.96em;letter-spacing:-0.085em">생명푸드</span></div>
<div class="a" style="left:1700.5px;top:2086.6px;font-size:23px;color:#37352f;letter-spacing:1.0px;">2024/12/09</div>
</body></html>
